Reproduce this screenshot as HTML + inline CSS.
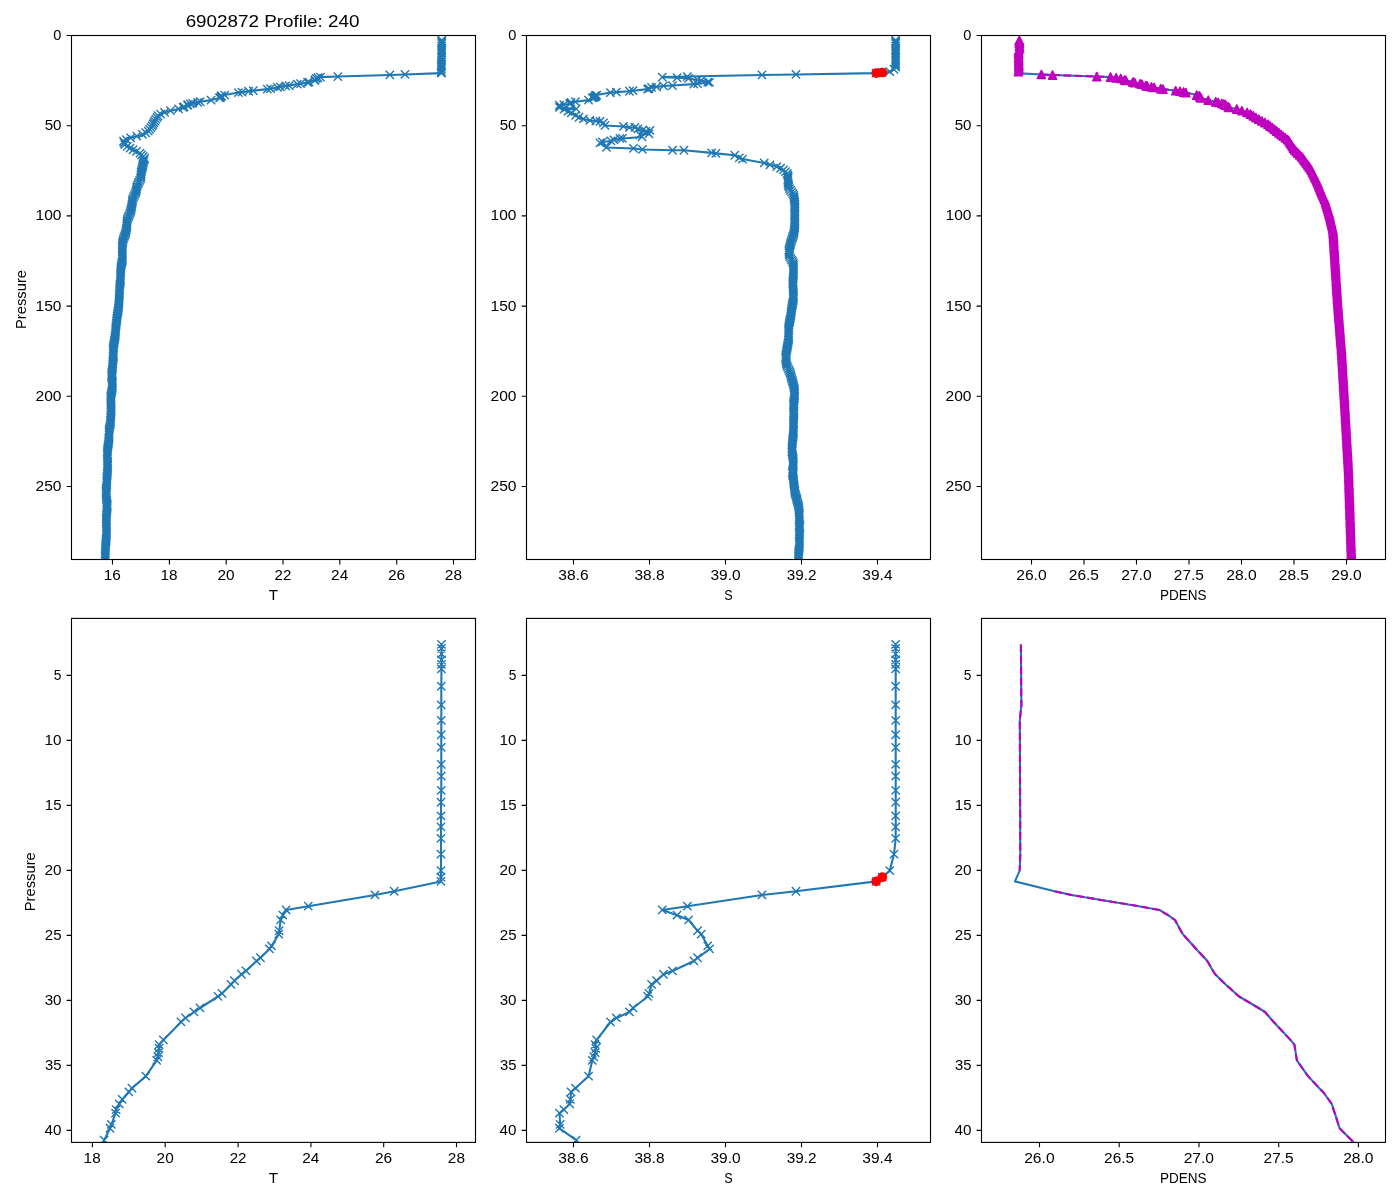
<!DOCTYPE html><html><head><meta charset="utf-8"><style>html,body{margin:0;padding:0;background:#fff;overflow:hidden;width:1400px;height:1200px;}svg{display:block;will-change:transform;}text{font-family:"Liberation Sans",sans-serif;fill:#000;}</style></head><body>
<svg width="1400" height="1200" viewBox="0 0 1400 1200">
<rect x="0" y="0" width="1400" height="1200" fill="#fff"/>
<defs><clipPath id="c0"><rect x="71.5" y="35.5" width="404" height="524"/></clipPath><clipPath id="c1"><rect x="526.5" y="35.5" width="404" height="524"/></clipPath><clipPath id="c2"><rect x="981.5" y="35.5" width="404" height="524"/></clipPath><clipPath id="c3"><rect x="71.5" y="618.4" width="404" height="524"/></clipPath><clipPath id="c4"><rect x="526.5" y="618.4" width="404" height="524"/></clipPath><clipPath id="c5"><rect x="981.5" y="618.4" width="404" height="524"/></clipPath></defs>
<g clip-path="url(#c3)"><path d="M441.5 644.5 L441.5 648.5 L441.5 654 L441.5 660 L441.5 664.5 L441.5 669 L441.3 686.3 L441.3 705 L441.3 720.5 L441.3 734.8 L441.3 747.5 L441.3 764.5 L441.3 776.1 L441.3 790.4 L441 802.3 L441 816 L441 827 L441 838.5 L441 854.1 L441 870.6 L441 877.2 L441 881.4 L394.3 891.3 L375 895 L308.3 906.2 L286.1 910 L282.9 915.2 L280.7 920 L279.2 930.8 L278.8 934.2 L271.5 946 L269.5 949 L260.5 957.8 L256.5 961 L246 971 L241.5 974.3 L234.5 980.8 L231 984.5 L222 993.5 L218 996.5 L200 1008 L194 1012 L185.5 1018 L181 1022 L163.4 1039.9 L159.1 1044.7 L159.1 1048.3 L158.5 1052.6 L157.9 1056.8 L156.7 1060.4 L145.9 1076.1 L132 1088.2 L128.9 1092 L122.3 1099.5 L119.3 1104 L116.2 1109.6 L115.6 1113.2 L111.4 1124.5 L110 1128.3 L104.2 1140.1 L99 1150" stroke="#1f77b4" fill="none" stroke-width="2.08" stroke-linejoin="round" stroke-linecap="butt"/><path d="M437.3 640.3l8.3 8.3m0 -8.3l-8.3 8.3M437.3 644.3l8.3 8.3m0 -8.3l-8.3 8.3M437.3 649.8l8.3 8.3m0 -8.3l-8.3 8.3M437.3 655.8l8.3 8.3m0 -8.3l-8.3 8.3M437.3 660.3l8.3 8.3m0 -8.3l-8.3 8.3M437.3 664.8l8.3 8.3m0 -8.3l-8.3 8.3M437.1 682.1l8.3 8.3m0 -8.3l-8.3 8.3M437.1 700.8l8.3 8.3m0 -8.3l-8.3 8.3M437.1 716.3l8.3 8.3m0 -8.3l-8.3 8.3M437.1 730.6l8.3 8.3m0 -8.3l-8.3 8.3M437.1 743.3l8.3 8.3m0 -8.3l-8.3 8.3M437.1 760.3l8.3 8.3m0 -8.3l-8.3 8.3M437.1 771.9l8.3 8.3m0 -8.3l-8.3 8.3M437.1 786.2l8.3 8.3m0 -8.3l-8.3 8.3M436.8 798.1l8.3 8.3m0 -8.3l-8.3 8.3M436.8 811.8l8.3 8.3m0 -8.3l-8.3 8.3M436.8 822.8l8.3 8.3m0 -8.3l-8.3 8.3M436.8 834.3l8.3 8.3m0 -8.3l-8.3 8.3M436.8 849.9l8.3 8.3m0 -8.3l-8.3 8.3M436.8 866.4l8.3 8.3m0 -8.3l-8.3 8.3M436.8 873l8.3 8.3m0 -8.3l-8.3 8.3M436.8 877.2l8.3 8.3m0 -8.3l-8.3 8.3M390.1 887.1l8.3 8.3m0 -8.3l-8.3 8.3M370.8 890.8l8.3 8.3m0 -8.3l-8.3 8.3M304.1 902l8.3 8.3m0 -8.3l-8.3 8.3M281.9 905.8l8.3 8.3m0 -8.3l-8.3 8.3M278.7 911l8.3 8.3m0 -8.3l-8.3 8.3M276.5 915.8l8.3 8.3m0 -8.3l-8.3 8.3M275 926.6l8.3 8.3m0 -8.3l-8.3 8.3M274.6 930l8.3 8.3m0 -8.3l-8.3 8.3M267.3 941.8l8.3 8.3m0 -8.3l-8.3 8.3M265.3 944.8l8.3 8.3m0 -8.3l-8.3 8.3M256.3 953.6l8.3 8.3m0 -8.3l-8.3 8.3M252.3 956.8l8.3 8.3m0 -8.3l-8.3 8.3M241.8 966.8l8.3 8.3m0 -8.3l-8.3 8.3M237.3 970.1l8.3 8.3m0 -8.3l-8.3 8.3M230.3 976.6l8.3 8.3m0 -8.3l-8.3 8.3M226.8 980.3l8.3 8.3m0 -8.3l-8.3 8.3M217.8 989.3l8.3 8.3m0 -8.3l-8.3 8.3M213.8 992.3l8.3 8.3m0 -8.3l-8.3 8.3M195.8 1003.8l8.3 8.3m0 -8.3l-8.3 8.3M189.8 1007.8l8.3 8.3m0 -8.3l-8.3 8.3M181.3 1013.8l8.3 8.3m0 -8.3l-8.3 8.3M176.8 1017.8l8.3 8.3m0 -8.3l-8.3 8.3M159.2 1035.7l8.3 8.3m0 -8.3l-8.3 8.3M154.9 1040.5l8.3 8.3m0 -8.3l-8.3 8.3M154.9 1044.1l8.3 8.3m0 -8.3l-8.3 8.3M154.3 1048.4l8.3 8.3m0 -8.3l-8.3 8.3M153.7 1052.6l8.3 8.3m0 -8.3l-8.3 8.3M152.5 1056.2l8.3 8.3m0 -8.3l-8.3 8.3M141.7 1071.9l8.3 8.3m0 -8.3l-8.3 8.3M127.8 1084l8.3 8.3m0 -8.3l-8.3 8.3M124.7 1087.8l8.3 8.3m0 -8.3l-8.3 8.3M118.1 1095.3l8.3 8.3m0 -8.3l-8.3 8.3M115.1 1099.8l8.3 8.3m0 -8.3l-8.3 8.3M112 1105.4l8.3 8.3m0 -8.3l-8.3 8.3M111.4 1109l8.3 8.3m0 -8.3l-8.3 8.3M107.2 1120.3l8.3 8.3m0 -8.3l-8.3 8.3M105.8 1124.1l8.3 8.3m0 -8.3l-8.3 8.3M100 1135.9l8.3 8.3m0 -8.3l-8.3 8.3M94.8 1145.8l8.3 8.3m0 -8.3l-8.3 8.3" stroke="#1f77b4" fill="none" stroke-width="1.39" stroke-linecap="butt"/></g>
<g clip-path="url(#c4)"><path d="M895.7 644.5 L895.7 648.5 L895.7 654 L895.7 660 L895.7 664.5 L895.7 669 L895.7 686.3 L895.7 705 L895.7 720.5 L895.7 734.8 L895.7 747.5 L895.7 764.5 L895.7 776.1 L895.7 790.4 L895.7 802.3 L895.7 816 L895.7 827 L895.7 838.5 L894 854.1 L889.8 870.6 L882.3 877.2 L876.2 881.4 L796 891.3 L762 895 L687.4 906.2 L662.3 910 L677.1 915.2 L688.7 920 L697.6 930.8 L701.3 934.2 L707.8 946 L709.6 949 L697.6 957.8 L693.9 961 L672.5 971 L663.5 974.3 L656.6 980.8 L651.6 984.5 L649 993.5 L647.7 996.5 L633.1 1008 L629.5 1012 L616.4 1018 L610.5 1022 L596.7 1039.9 L595.2 1044.7 L595.9 1048.3 L595.2 1052.6 L593.8 1056.8 L592.3 1060.4 L588.6 1076.1 L575.5 1088.2 L571.1 1092 L570.4 1099.5 L569.7 1104 L563.9 1109.6 L559.5 1113.2 L560.2 1124.5 L559.5 1128.3 L576.2 1140.1 L583.5 1150" stroke="#1f77b4" fill="none" stroke-width="2.08" stroke-linejoin="round" stroke-linecap="butt"/><path d="M891.5 640.3l8.3 8.3m0 -8.3l-8.3 8.3M891.5 644.3l8.3 8.3m0 -8.3l-8.3 8.3M891.5 649.8l8.3 8.3m0 -8.3l-8.3 8.3M891.5 655.8l8.3 8.3m0 -8.3l-8.3 8.3M891.5 660.3l8.3 8.3m0 -8.3l-8.3 8.3M891.5 664.8l8.3 8.3m0 -8.3l-8.3 8.3M891.5 682.1l8.3 8.3m0 -8.3l-8.3 8.3M891.5 700.8l8.3 8.3m0 -8.3l-8.3 8.3M891.5 716.3l8.3 8.3m0 -8.3l-8.3 8.3M891.5 730.6l8.3 8.3m0 -8.3l-8.3 8.3M891.5 743.3l8.3 8.3m0 -8.3l-8.3 8.3M891.5 760.3l8.3 8.3m0 -8.3l-8.3 8.3M891.5 771.9l8.3 8.3m0 -8.3l-8.3 8.3M891.5 786.2l8.3 8.3m0 -8.3l-8.3 8.3M891.5 798.1l8.3 8.3m0 -8.3l-8.3 8.3M891.5 811.8l8.3 8.3m0 -8.3l-8.3 8.3M891.5 822.8l8.3 8.3m0 -8.3l-8.3 8.3M891.5 834.3l8.3 8.3m0 -8.3l-8.3 8.3M889.8 849.9l8.3 8.3m0 -8.3l-8.3 8.3M885.6 866.4l8.3 8.3m0 -8.3l-8.3 8.3M878.1 873l8.3 8.3m0 -8.3l-8.3 8.3M872 877.2l8.3 8.3m0 -8.3l-8.3 8.3M791.8 887.1l8.3 8.3m0 -8.3l-8.3 8.3M757.8 890.8l8.3 8.3m0 -8.3l-8.3 8.3M683.2 902l8.3 8.3m0 -8.3l-8.3 8.3M658.1 905.8l8.3 8.3m0 -8.3l-8.3 8.3M672.9 911l8.3 8.3m0 -8.3l-8.3 8.3M684.5 915.8l8.3 8.3m0 -8.3l-8.3 8.3M693.4 926.6l8.3 8.3m0 -8.3l-8.3 8.3M697.1 930l8.3 8.3m0 -8.3l-8.3 8.3M703.6 941.8l8.3 8.3m0 -8.3l-8.3 8.3M705.4 944.8l8.3 8.3m0 -8.3l-8.3 8.3M693.4 953.6l8.3 8.3m0 -8.3l-8.3 8.3M689.7 956.8l8.3 8.3m0 -8.3l-8.3 8.3M668.3 966.8l8.3 8.3m0 -8.3l-8.3 8.3M659.3 970.1l8.3 8.3m0 -8.3l-8.3 8.3M652.4 976.6l8.3 8.3m0 -8.3l-8.3 8.3M647.4 980.3l8.3 8.3m0 -8.3l-8.3 8.3M644.8 989.3l8.3 8.3m0 -8.3l-8.3 8.3M643.5 992.3l8.3 8.3m0 -8.3l-8.3 8.3M628.9 1003.8l8.3 8.3m0 -8.3l-8.3 8.3M625.3 1007.8l8.3 8.3m0 -8.3l-8.3 8.3M612.2 1013.8l8.3 8.3m0 -8.3l-8.3 8.3M606.3 1017.8l8.3 8.3m0 -8.3l-8.3 8.3M592.5 1035.7l8.3 8.3m0 -8.3l-8.3 8.3M591 1040.5l8.3 8.3m0 -8.3l-8.3 8.3M591.7 1044.1l8.3 8.3m0 -8.3l-8.3 8.3M591 1048.4l8.3 8.3m0 -8.3l-8.3 8.3M589.6 1052.6l8.3 8.3m0 -8.3l-8.3 8.3M588.1 1056.2l8.3 8.3m0 -8.3l-8.3 8.3M584.4 1071.9l8.3 8.3m0 -8.3l-8.3 8.3M571.3 1084l8.3 8.3m0 -8.3l-8.3 8.3M566.9 1087.8l8.3 8.3m0 -8.3l-8.3 8.3M566.2 1095.3l8.3 8.3m0 -8.3l-8.3 8.3M565.5 1099.8l8.3 8.3m0 -8.3l-8.3 8.3M559.7 1105.4l8.3 8.3m0 -8.3l-8.3 8.3M555.3 1109l8.3 8.3m0 -8.3l-8.3 8.3M556 1120.3l8.3 8.3m0 -8.3l-8.3 8.3M555.3 1124.1l8.3 8.3m0 -8.3l-8.3 8.3M572 1135.9l8.3 8.3m0 -8.3l-8.3 8.3M579.3 1145.8l8.3 8.3m0 -8.3l-8.3 8.3" stroke="#1f77b4" fill="none" stroke-width="1.39" stroke-linecap="butt"/><circle cx="882.3" cy="877.2" r="4.17" fill="#ff0000" stroke="#ff0000" stroke-width="1.39"/><circle cx="876.2" cy="881.4" r="4.17" fill="#ff0000" stroke="#ff0000" stroke-width="1.39"/></g>
<g clip-path="url(#c5)"><path d="M1020.9 644.5 L1020.9 648.5 L1021 654 L1021 660 L1021.1 664.5 L1021.1 669 L1021.2 686.3 L1021.4 705 L1019.8 720.5 L1019.9 734.8 L1019.9 747.5 L1020 764.5 L1020 776.1 L1020.1 790.4 L1020.1 802.3 L1020.2 816 L1020.2 827 L1020.2 838.5 L1020.3 854.1 L1019.7 870.6 L1016.8 877.2 L1015 881.4 L1054.5 891.3 L1071.4 895 L1138.7 906.2 L1159.5 910 L1168 915.2 L1175 920 L1180.8 930.8 L1182.9 934.2 L1193.5 946 L1196.1 949 L1204.4 957.8 L1207.3 961 L1213.1 971 L1215.2 974.3 L1221.8 980.8 L1225.7 984.5 L1235.7 993.5 L1239.1 996.5 L1258.6 1008 L1265 1012 L1270.2 1018 L1273.7 1022 L1290.4 1039.9 L1294.4 1044.7 L1295 1048.3 L1295.7 1052.6 L1296.3 1056.8 L1296.9 1060.4 L1308 1076.1 L1319.3 1088.2 L1323.1 1092 L1328.6 1099.5 L1331.8 1104 L1333.6 1109.6 L1334.8 1113.2 L1338.4 1124.5 L1339.6 1128.3 L1351.3 1140.1 L1361 1150" stroke="#1f77b4" fill="none" stroke-width="2.08" stroke-linejoin="round" stroke-linecap="butt"/><path d="M1020.9 644.5 L1020.9 648.5 L1021 654 L1021 660 L1021.1 664.5 L1021.1 669 L1021.2 686.3 L1021.4 705 L1019.8 720.5 L1019.9 734.8 L1019.9 747.5 L1020 764.5 L1020 776.1 L1020.1 790.4 L1020.1 802.3 L1020.2 816 L1020.2 827 L1020.2 838.5 L1020.3 854.1 L1019.7 870.6" stroke="#bf00bf" fill="none" stroke-width="2.08" stroke-linejoin="round" stroke-linecap="butt" stroke-dasharray="7.7 3.33"/><path d="M1054.5 891.3 L1071.4 895 L1138.7 906.2 L1159.5 910 L1168 915.2 L1175 920 L1180.8 930.8 L1182.9 934.2 L1193.5 946 L1196.1 949 L1204.4 957.8 L1207.3 961 L1213.1 971 L1215.2 974.3 L1221.8 980.8 L1225.7 984.5 L1235.7 993.5 L1239.1 996.5 L1258.6 1008 L1265 1012 L1270.2 1018 L1273.7 1022 L1290.4 1039.9 L1294.4 1044.7 L1295 1048.3 L1295.7 1052.6 L1296.3 1056.8 L1296.9 1060.4 L1308 1076.1 L1319.3 1088.2 L1323.1 1092 L1328.6 1099.5 L1331.8 1104 L1333.6 1109.6 L1334.8 1113.2 L1338.4 1124.5 L1339.6 1128.3 L1351.3 1140.1 L1361 1150" stroke="#bf00bf" fill="none" stroke-width="2.08" stroke-linejoin="round" stroke-linecap="butt" stroke-dasharray="7.7 3.33"/></g>
<g clip-path="url(#c0)"><path d="M441.8 40.2 L441.8 40.8 L441.8 41.5 L441.8 42.4 L441.8 43 L441.8 43.6 L441.6 46 L441.6 48.6 L441.6 50.8 L441.6 52.8 L441.6 54.5 L441.6 56.9 L441.6 58.5 L441.6 60.5 L441.4 62.1 L441.4 64 L441.4 65.6 L441.4 67.1 L441.4 69.3 L441.4 71.6 L441.4 72.5 L441.4 73.1 L404.9 74.5 L389.9 75 L337.8 76.5 L320.5 77.1 L318 77.8 L316.3 78.5 L315.1 80 L314.8 80.4 L309.1 82.1 L307.5 82.5 L300.5 83.7 L297.4 84.1 L289.2 85.5 L285.7 86 L280.2 86.9 L277.5 87.4 L270.5 88.7 L267.4 89.1 L253.3 90.7 L248.6 91.2 L242 92.1 L238.5 92.6 L224.7 95.1 L221.4 95.8 L221.4 96.3 L220.9 96.9 L220.5 97.4 L219.5 97.9 L211.1 100.1 L200.2 101.8 L197.8 102.3 L192.7 103.4 L190.3 104 L187.9 104.8 L187.4 105.3 L184.2 106.8 L183.1 107.4 L178.5 109 L166.7 111.7 L158.3 115 L154.2 120.8 L151.7 126.7 L148.3 131.7 L141.7 135 L131.7 137.5 L123.3 140.8 L125 145 L131.7 149.2 L140 153.3 L144.2 158.3 L143.3 166.7 L140.8 176.7 L137.5 185 L133.3 200 L131.7 206.7 L126.7 223.3 L123.3 243.3 L121.3 265 L120.3 290 L118.3 310 L115.8 331.7 L113.3 353.3 L112 373.3 L111.9 380 L110.9 410.8 L108.5 438.6 L107.3 457.1 L106.7 487.9 L107 511 L106.2 534.2 L105.2 558.8 L105 575" stroke="#1f77b4" fill="none" stroke-width="2.08" stroke-linejoin="round" stroke-linecap="butt"/><path d="M437.6 36.1l8.3 8.3m0 -8.3l-8.3 8.3M437.6 36.6l8.3 8.3m0 -8.3l-8.3 8.3M437.6 37.4l8.3 8.3m0 -8.3l-8.3 8.3M437.6 38.2l8.3 8.3m0 -8.3l-8.3 8.3M437.6 38.8l8.3 8.3m0 -8.3l-8.3 8.3M437.6 39.5l8.3 8.3m0 -8.3l-8.3 8.3M437.5 41.9l8.3 8.3m0 -8.3l-8.3 8.3M437.5 44.5l8.3 8.3m0 -8.3l-8.3 8.3M437.5 46.6l8.3 8.3m0 -8.3l-8.3 8.3M437.5 48.6l8.3 8.3m0 -8.3l-8.3 8.3M437.5 50.4l8.3 8.3m0 -8.3l-8.3 8.3M437.5 52.7l8.3 8.3m0 -8.3l-8.3 8.3M437.5 54.3l8.3 8.3m0 -8.3l-8.3 8.3M437.5 56.3l8.3 8.3m0 -8.3l-8.3 8.3M437.2 58l8.3 8.3m0 -8.3l-8.3 8.3M437.2 59.9l8.3 8.3m0 -8.3l-8.3 8.3M437.2 61.4l8.3 8.3m0 -8.3l-8.3 8.3M437.2 63l8.3 8.3m0 -8.3l-8.3 8.3M437.2 65.1l8.3 8.3m0 -8.3l-8.3 8.3M437.2 67.4l8.3 8.3m0 -8.3l-8.3 8.3M437.2 68.3l8.3 8.3m0 -8.3l-8.3 8.3M437.2 68.9l8.3 8.3m0 -8.3l-8.3 8.3M400.8 70.3l8.3 8.3m0 -8.3l-8.3 8.3M385.7 70.8l8.3 8.3m0 -8.3l-8.3 8.3M333.7 72.4l8.3 8.3m0 -8.3l-8.3 8.3M316.3 72.9l8.3 8.3m0 -8.3l-8.3 8.3M313.8 73.6l8.3 8.3m0 -8.3l-8.3 8.3M312.1 74.3l8.3 8.3m0 -8.3l-8.3 8.3M310.9 75.8l8.3 8.3m0 -8.3l-8.3 8.3M310.6 76.3l8.3 8.3m0 -8.3l-8.3 8.3M304.9 77.9l8.3 8.3m0 -8.3l-8.3 8.3M303.4 78.3l8.3 8.3m0 -8.3l-8.3 8.3M296.4 79.5l8.3 8.3m0 -8.3l-8.3 8.3M293.2 80l8.3 8.3m0 -8.3l-8.3 8.3M285 81.4l8.3 8.3m0 -8.3l-8.3 8.3M281.5 81.8l8.3 8.3m0 -8.3l-8.3 8.3M276.1 82.7l8.3 8.3m0 -8.3l-8.3 8.3M273.3 83.2l8.3 8.3m0 -8.3l-8.3 8.3M266.3 84.5l8.3 8.3m0 -8.3l-8.3 8.3M263.2 84.9l8.3 8.3m0 -8.3l-8.3 8.3M249.1 86.5l8.3 8.3m0 -8.3l-8.3 8.3M244.5 87.1l8.3 8.3m0 -8.3l-8.3 8.3M237.8 87.9l8.3 8.3m0 -8.3l-8.3 8.3M234.3 88.4l8.3 8.3m0 -8.3l-8.3 8.3M220.6 90.9l8.3 8.3m0 -8.3l-8.3 8.3M217.2 91.6l8.3 8.3m0 -8.3l-8.3 8.3M217.2 92.1l8.3 8.3m0 -8.3l-8.3 8.3M216.7 92.7l8.3 8.3m0 -8.3l-8.3 8.3M216.3 93.3l8.3 8.3m0 -8.3l-8.3 8.3M215.3 93.8l8.3 8.3m0 -8.3l-8.3 8.3M206.9 96l8.3 8.3m0 -8.3l-8.3 8.3M196.1 97.6l8.3 8.3m0 -8.3l-8.3 8.3M193.6 98.2l8.3 8.3m0 -8.3l-8.3 8.3M188.5 99.2l8.3 8.3m0 -8.3l-8.3 8.3M186.2 99.8l8.3 8.3m0 -8.3l-8.3 8.3M183.7 100.6l8.3 8.3m0 -8.3l-8.3 8.3M183.3 101.1l8.3 8.3m0 -8.3l-8.3 8.3M180 102.7l8.3 8.3m0 -8.3l-8.3 8.3M178.9 103.2l8.3 8.3m0 -8.3l-8.3 8.3M174.4 104.8l8.3 8.3m0 -8.3l-8.3 8.3M166.3 106.5l8.3 8.3m0 -8.3l-8.3 8.3M160.4 108.2l8.3 8.3m0 -8.3l-8.3 8.3M156.4 109.9l8.3 8.3m0 -8.3l-8.3 8.3M153.8 111.6l8.3 8.3m0 -8.3l-8.3 8.3M152.9 113.3l8.3 8.3m0 -8.3l-8.3 8.3M151.7 115l8.3 8.3m0 -8.3l-8.3 8.3M150.5 116.7l8.3 8.3m0 -8.3l-8.3 8.3M149.7 118.4l8.3 8.3m0 -8.3l-8.3 8.3M149 120.1l8.3 8.3m0 -8.3l-8.3 8.3M148 121.8l8.3 8.3m0 -8.3l-8.3 8.3M146.9 123.5l8.3 8.3m0 -8.3l-8.3 8.3M145.5 125.2l8.3 8.3m0 -8.3l-8.3 8.3M144.1 126.9l8.3 8.3m0 -8.3l-8.3 8.3M141.6 128.6l8.3 8.3m0 -8.3l-8.3 8.3M138.3 130.3l8.3 8.3m0 -8.3l-8.3 8.3M132.6 132l8.3 8.3m0 -8.3l-8.3 8.3M126.5 133.7l8.3 8.3m0 -8.3l-8.3 8.3M122.2 135.4l8.3 8.3m0 -8.3l-8.3 8.3M119.3 137.1l8.3 8.3m0 -8.3l-8.3 8.3M120 138.8l8.3 8.3m0 -8.3l-8.3 8.3M120.6 140.5l8.3 8.3m0 -8.3l-8.3 8.3M123.1 142.2l8.3 8.3m0 -8.3l-8.3 8.3M125.9 143.9l8.3 8.3m0 -8.3l-8.3 8.3M128.9 145.6l8.3 8.3m0 -8.3l-8.3 8.3M132.4 147.3l8.3 8.3m0 -8.3l-8.3 8.3M135.9 149l8.3 8.3m0 -8.3l-8.3 8.3M137.5 150.7l8.3 8.3m0 -8.3l-8.3 8.3M139 152.4l8.3 8.3m0 -8.3l-8.3 8.3M140.5 154.1l8.3 8.3m0 -8.3l-8.3 8.3M140 155.8l8.3 8.3m0 -8.3l-8.3 8.3M139.6 157.5l8.3 8.3m0 -8.3l-8.3 8.3M139.1 159.2l8.3 8.3m0 -8.3l-8.3 8.3M138.7 160.9l8.3 8.3m0 -8.3l-8.3 8.3M138.4 162.6l8.3 8.3m0 -8.3l-8.3 8.3M138 164.3l8.3 8.3m0 -8.3l-8.3 8.3M137.5 166l8.3 8.3m0 -8.3l-8.3 8.3M137.1 167.7l8.3 8.3m0 -8.3l-8.3 8.3M137 169.4l8.3 8.3m0 -8.3l-8.3 8.3M136.9 171.1l8.3 8.3m0 -8.3l-8.3 8.3M136.7 172.8l8.3 8.3m0 -8.3l-8.3 8.3M136.4 174.5l8.3 8.3m0 -8.3l-8.3 8.3M135.5 176.2l8.3 8.3m0 -8.3l-8.3 8.3M134.7 177.9l8.3 8.3m0 -8.3l-8.3 8.3M133.9 179.6l8.3 8.3m0 -8.3l-8.3 8.3M133.1 181.3l8.3 8.3m0 -8.3l-8.3 8.3M132.7 183l8.3 8.3m0 -8.3l-8.3 8.3M132.4 184.7l8.3 8.3m0 -8.3l-8.3 8.3M132 186.4l8.3 8.3m0 -8.3l-8.3 8.3M131.7 188.1l8.3 8.3m0 -8.3l-8.3 8.3M130.9 189.8l8.3 8.3m0 -8.3l-8.3 8.3M130.1 191.5l8.3 8.3m0 -8.3l-8.3 8.3M129.4 193.2l8.3 8.3m0 -8.3l-8.3 8.3M128.6 194.9l8.3 8.3m0 -8.3l-8.3 8.3M128.3 196.6l8.3 8.3m0 -8.3l-8.3 8.3M128.1 198.3l8.3 8.3m0 -8.3l-8.3 8.3M127.9 200l8.3 8.3m0 -8.3l-8.3 8.3M127.6 201.7l8.3 8.3m0 -8.3l-8.3 8.3M127.3 203.4l8.3 8.3m0 -8.3l-8.3 8.3M126.9 205.1l8.3 8.3m0 -8.3l-8.3 8.3M126.5 206.8l8.3 8.3m0 -8.3l-8.3 8.3M126.1 208.5l8.3 8.3m0 -8.3l-8.3 8.3M125.4 210.2l8.3 8.3m0 -8.3l-8.3 8.3M124.7 211.9l8.3 8.3m0 -8.3l-8.3 8.3M123.9 213.6l8.3 8.3m0 -8.3l-8.3 8.3M123.2 215.3l8.3 8.3m0 -8.3l-8.3 8.3M123 217l8.3 8.3m0 -8.3l-8.3 8.3M122.8 218.7l8.3 8.3m0 -8.3l-8.3 8.3M122.7 220.4l8.3 8.3m0 -8.3l-8.3 8.3M122.7 222.1l8.3 8.3m0 -8.3l-8.3 8.3M122.4 223.8l8.3 8.3m0 -8.3l-8.3 8.3M122.1 225.5l8.3 8.3m0 -8.3l-8.3 8.3M121.8 227.2l8.3 8.3m0 -8.3l-8.3 8.3M121.5 228.9l8.3 8.3m0 -8.3l-8.3 8.3M120.9 230.6l8.3 8.3m0 -8.3l-8.3 8.3M120.2 232.3l8.3 8.3m0 -8.3l-8.3 8.3M119.6 234l8.3 8.3m0 -8.3l-8.3 8.3M119 235.7l8.3 8.3m0 -8.3l-8.3 8.3M118.7 237.4l8.3 8.3m0 -8.3l-8.3 8.3M118.4 239.1l8.3 8.3m0 -8.3l-8.3 8.3M118.2 240.8l8.3 8.3m0 -8.3l-8.3 8.3M118.1 242.5l8.3 8.3m0 -8.3l-8.3 8.3M118.1 244.2l8.3 8.3m0 -8.3l-8.3 8.3M118.2 245.9l8.3 8.3m0 -8.3l-8.3 8.3M118.2 247.6l8.3 8.3m0 -8.3l-8.3 8.3M118.3 249.3l8.3 8.3m0 -8.3l-8.3 8.3M118.3 251l8.3 8.3m0 -8.3l-8.3 8.3M118.3 252.7l8.3 8.3m0 -8.3l-8.3 8.3M118.3 254.4l8.3 8.3m0 -8.3l-8.3 8.3M118.3 256.1l8.3 8.3m0 -8.3l-8.3 8.3M117.9 257.8l8.3 8.3m0 -8.3l-8.3 8.3M117.5 259.5l8.3 8.3m0 -8.3l-8.3 8.3M117.1 261.2l8.3 8.3m0 -8.3l-8.3 8.3M116.9 262.9l8.3 8.3m0 -8.3l-8.3 8.3M116.7 264.6l8.3 8.3m0 -8.3l-8.3 8.3M116.6 266.3l8.3 8.3m0 -8.3l-8.3 8.3M116.5 268l8.3 8.3m0 -8.3l-8.3 8.3M116.3 269.7l8.3 8.3m0 -8.3l-8.3 8.3M116.3 271.4l8.3 8.3m0 -8.3l-8.3 8.3M116.3 273.1l8.3 8.3m0 -8.3l-8.3 8.3M116.4 274.8l8.3 8.3m0 -8.3l-8.3 8.3M116.4 276.5l8.3 8.3m0 -8.3l-8.3 8.3M116.2 278.2l8.3 8.3m0 -8.3l-8.3 8.3M115.9 279.9l8.3 8.3m0 -8.3l-8.3 8.3M115.7 281.6l8.3 8.3m0 -8.3l-8.3 8.3M115.5 283.3l8.3 8.3m0 -8.3l-8.3 8.3M115.5 285l8.3 8.3m0 -8.3l-8.3 8.3M115.4 286.7l8.3 8.3m0 -8.3l-8.3 8.3M115.3 288.4l8.3 8.3m0 -8.3l-8.3 8.3M115.3 290.1l8.3 8.3m0 -8.3l-8.3 8.3M115.2 291.8l8.3 8.3m0 -8.3l-8.3 8.3M115.1 293.5l8.3 8.3m0 -8.3l-8.3 8.3M115 295.2l8.3 8.3m0 -8.3l-8.3 8.3M114.9 296.9l8.3 8.3m0 -8.3l-8.3 8.3M114.8 298.6l8.3 8.3m0 -8.3l-8.3 8.3M114.6 300.3l8.3 8.3m0 -8.3l-8.3 8.3M114.5 302l8.3 8.3m0 -8.3l-8.3 8.3M114.3 303.7l8.3 8.3m0 -8.3l-8.3 8.3M114.1 305.4l8.3 8.3m0 -8.3l-8.3 8.3M113.8 307.1l8.3 8.3m0 -8.3l-8.3 8.3M113.5 308.8l8.3 8.3m0 -8.3l-8.3 8.3M113.2 310.5l8.3 8.3m0 -8.3l-8.3 8.3M113 312.2l8.3 8.3m0 -8.3l-8.3 8.3M112.8 313.9l8.3 8.3m0 -8.3l-8.3 8.3M112.6 315.6l8.3 8.3m0 -8.3l-8.3 8.3M112.4 317.3l8.3 8.3m0 -8.3l-8.3 8.3M112.2 319l8.3 8.3m0 -8.3l-8.3 8.3M112 320.7l8.3 8.3m0 -8.3l-8.3 8.3M111.8 322.4l8.3 8.3m0 -8.3l-8.3 8.3M111.6 324.1l8.3 8.3m0 -8.3l-8.3 8.3M111.5 325.8l8.3 8.3m0 -8.3l-8.3 8.3M111.4 327.5l8.3 8.3m0 -8.3l-8.3 8.3M111.3 329.2l8.3 8.3m0 -8.3l-8.3 8.3M111.2 330.9l8.3 8.3m0 -8.3l-8.3 8.3M110.9 332.6l8.3 8.3m0 -8.3l-8.3 8.3M110.6 334.3l8.3 8.3m0 -8.3l-8.3 8.3M110.4 336l8.3 8.3m0 -8.3l-8.3 8.3M110.1 337.7l8.3 8.3m0 -8.3l-8.3 8.3M109.8 339.4l8.3 8.3m0 -8.3l-8.3 8.3M109.5 341.1l8.3 8.3m0 -8.3l-8.3 8.3M109.2 342.8l8.3 8.3m0 -8.3l-8.3 8.3M108.9 344.5l8.3 8.3m0 -8.3l-8.3 8.3M109 346.2l8.3 8.3m0 -8.3l-8.3 8.3M109.2 347.9l8.3 8.3m0 -8.3l-8.3 8.3M109.3 349.6l8.3 8.3m0 -8.3l-8.3 8.3M109.5 351.3l8.3 8.3m0 -8.3l-8.3 8.3M109.3 353l8.3 8.3m0 -8.3l-8.3 8.3M109.1 354.7l8.3 8.3m0 -8.3l-8.3 8.3M108.9 356.4l8.3 8.3m0 -8.3l-8.3 8.3M108.6 358.1l8.3 8.3m0 -8.3l-8.3 8.3M108.6 359.8l8.3 8.3m0 -8.3l-8.3 8.3M108.5 361.5l8.3 8.3m0 -8.3l-8.3 8.3M108.4 363.2l8.3 8.3m0 -8.3l-8.3 8.3M108.3 364.9l8.3 8.3m0 -8.3l-8.3 8.3M108 366.6l8.3 8.3m0 -8.3l-8.3 8.3M107.7 368.3l8.3 8.3m0 -8.3l-8.3 8.3M107.5 370l8.3 8.3m0 -8.3l-8.3 8.3M107.3 371.7l8.3 8.3m0 -8.3l-8.3 8.3M107.6 373.4l8.3 8.3m0 -8.3l-8.3 8.3M107.9 375.1l8.3 8.3m0 -8.3l-8.3 8.3M108.2 376.8l8.3 8.3m0 -8.3l-8.3 8.3M108.4 378.5l8.3 8.3m0 -8.3l-8.3 8.3M108.3 380.2l8.3 8.3m0 -8.3l-8.3 8.3M108.2 381.9l8.3 8.3m0 -8.3l-8.3 8.3M108.1 383.6l8.3 8.3m0 -8.3l-8.3 8.3M108 385.3l8.3 8.3m0 -8.3l-8.3 8.3M107.6 387l8.3 8.3m0 -8.3l-8.3 8.3M107.3 388.7l8.3 8.3m0 -8.3l-8.3 8.3M106.9 390.4l8.3 8.3m0 -8.3l-8.3 8.3M106.6 392.1l8.3 8.3m0 -8.3l-8.3 8.3M106.6 393.8l8.3 8.3m0 -8.3l-8.3 8.3M106.7 395.5l8.3 8.3m0 -8.3l-8.3 8.3M106.7 397.2l8.3 8.3m0 -8.3l-8.3 8.3M106.7 398.9l8.3 8.3m0 -8.3l-8.3 8.3M106.8 400.6l8.3 8.3m0 -8.3l-8.3 8.3M106.9 402.3l8.3 8.3m0 -8.3l-8.3 8.3M107 404l8.3 8.3m0 -8.3l-8.3 8.3M107.1 405.7l8.3 8.3m0 -8.3l-8.3 8.3M107 407.4l8.3 8.3m0 -8.3l-8.3 8.3M106.9 409.1l8.3 8.3m0 -8.3l-8.3 8.3M106.7 410.8l8.3 8.3m0 -8.3l-8.3 8.3M106.6 412.5l8.3 8.3m0 -8.3l-8.3 8.3M106.5 414.2l8.3 8.3m0 -8.3l-8.3 8.3M106.4 415.9l8.3 8.3m0 -8.3l-8.3 8.3M106.4 417.6l8.3 8.3m0 -8.3l-8.3 8.3M106.3 419.3l8.3 8.3m0 -8.3l-8.3 8.3M106 421l8.3 8.3m0 -8.3l-8.3 8.3M105.6 422.7l8.3 8.3m0 -8.3l-8.3 8.3M105.3 424.4l8.3 8.3m0 -8.3l-8.3 8.3M104.9 426.1l8.3 8.3m0 -8.3l-8.3 8.3M104.9 427.8l8.3 8.3m0 -8.3l-8.3 8.3M105 429.5l8.3 8.3m0 -8.3l-8.3 8.3M105 431.2l8.3 8.3m0 -8.3l-8.3 8.3M105 432.9l8.3 8.3m0 -8.3l-8.3 8.3M104.8 434.6l8.3 8.3m0 -8.3l-8.3 8.3M104.6 436.3l8.3 8.3m0 -8.3l-8.3 8.3M104.4 438l8.3 8.3m0 -8.3l-8.3 8.3M104.3 439.7l8.3 8.3m0 -8.3l-8.3 8.3M104 441.4l8.3 8.3m0 -8.3l-8.3 8.3M103.7 443.1l8.3 8.3m0 -8.3l-8.3 8.3M103.5 444.8l8.3 8.3m0 -8.3l-8.3 8.3M103.2 446.5l8.3 8.3m0 -8.3l-8.3 8.3M103.2 448.2l8.3 8.3m0 -8.3l-8.3 8.3M103.2 449.9l8.3 8.3m0 -8.3l-8.3 8.3M103.2 451.6l8.3 8.3m0 -8.3l-8.3 8.3M103.3 453.3l8.3 8.3m0 -8.3l-8.3 8.3M103.3 455l8.3 8.3m0 -8.3l-8.3 8.3M103.4 456.7l8.3 8.3m0 -8.3l-8.3 8.3M103.5 458.4l8.3 8.3m0 -8.3l-8.3 8.3M103.6 460.1l8.3 8.3m0 -8.3l-8.3 8.3M103.6 461.8l8.3 8.3m0 -8.3l-8.3 8.3M103.5 463.5l8.3 8.3m0 -8.3l-8.3 8.3M103.5 465.2l8.3 8.3m0 -8.3l-8.3 8.3M103.4 466.9l8.3 8.3m0 -8.3l-8.3 8.3M103.2 468.6l8.3 8.3m0 -8.3l-8.3 8.3M103.1 470.3l8.3 8.3m0 -8.3l-8.3 8.3M102.9 472l8.3 8.3m0 -8.3l-8.3 8.3M102.7 473.7l8.3 8.3m0 -8.3l-8.3 8.3M102.7 475.4l8.3 8.3m0 -8.3l-8.3 8.3M102.7 477.1l8.3 8.3m0 -8.3l-8.3 8.3M102.7 478.8l8.3 8.3m0 -8.3l-8.3 8.3M102.7 480.5l8.3 8.3m0 -8.3l-8.3 8.3M102.5 482.2l8.3 8.3m0 -8.3l-8.3 8.3M102.2 483.9l8.3 8.3m0 -8.3l-8.3 8.3M102 485.6l8.3 8.3m0 -8.3l-8.3 8.3M101.8 487.3l8.3 8.3m0 -8.3l-8.3 8.3M101.9 489l8.3 8.3m0 -8.3l-8.3 8.3M102 490.7l8.3 8.3m0 -8.3l-8.3 8.3M102.1 492.4l8.3 8.3m0 -8.3l-8.3 8.3M102.3 494.1l8.3 8.3m0 -8.3l-8.3 8.3M102.5 495.8l8.3 8.3m0 -8.3l-8.3 8.3M102.7 497.5l8.3 8.3m0 -8.3l-8.3 8.3M103 499.2l8.3 8.3m0 -8.3l-8.3 8.3M103.2 500.9l8.3 8.3m0 -8.3l-8.3 8.3M103.1 502.6l8.3 8.3m0 -8.3l-8.3 8.3M103 504.3l8.3 8.3m0 -8.3l-8.3 8.3M102.8 506l8.3 8.3m0 -8.3l-8.3 8.3M102.7 507.7l8.3 8.3m0 -8.3l-8.3 8.3M102.5 509.4l8.3 8.3m0 -8.3l-8.3 8.3M102.4 511.1l8.3 8.3m0 -8.3l-8.3 8.3M102.2 512.8l8.3 8.3m0 -8.3l-8.3 8.3M102 514.5l8.3 8.3m0 -8.3l-8.3 8.3M102.1 516.2l8.3 8.3m0 -8.3l-8.3 8.3M102.2 517.9l8.3 8.3m0 -8.3l-8.3 8.3M102.3 519.6l8.3 8.3m0 -8.3l-8.3 8.3M102.4 521.3l8.3 8.3m0 -8.3l-8.3 8.3M102.4 523l8.3 8.3m0 -8.3l-8.3 8.3M102.4 524.7l8.3 8.3m0 -8.3l-8.3 8.3M102.4 526.4l8.3 8.3m0 -8.3l-8.3 8.3M102.4 528.1l8.3 8.3m0 -8.3l-8.3 8.3M102.4 529.8l8.3 8.3m0 -8.3l-8.3 8.3M102.3 531.5l8.3 8.3m0 -8.3l-8.3 8.3M102.2 533.2l8.3 8.3m0 -8.3l-8.3 8.3M102.1 534.9l8.3 8.3m0 -8.3l-8.3 8.3M101.9 536.6l8.3 8.3m0 -8.3l-8.3 8.3M101.7 538.3l8.3 8.3m0 -8.3l-8.3 8.3M101.5 540l8.3 8.3m0 -8.3l-8.3 8.3M101.4 541.7l8.3 8.3m0 -8.3l-8.3 8.3M101.3 543.4l8.3 8.3m0 -8.3l-8.3 8.3M101.3 545.1l8.3 8.3m0 -8.3l-8.3 8.3M101.2 546.8l8.3 8.3m0 -8.3l-8.3 8.3M101.2 548.5l8.3 8.3m0 -8.3l-8.3 8.3M101.1 550.2l8.3 8.3m0 -8.3l-8.3 8.3M101.1 551.9l8.3 8.3m0 -8.3l-8.3 8.3M101.1 553.6l8.3 8.3m0 -8.3l-8.3 8.3M101 555.3l8.3 8.3m0 -8.3l-8.3 8.3M101.1 557l8.3 8.3m0 -8.3l-8.3 8.3M101.2 558.7l8.3 8.3m0 -8.3l-8.3 8.3M101.3 560.4l8.3 8.3m0 -8.3l-8.3 8.3M101.4 562.1l8.3 8.3m0 -8.3l-8.3 8.3M101.3 563.8l8.3 8.3m0 -8.3l-8.3 8.3M101.1 565.5l8.3 8.3m0 -8.3l-8.3 8.3M101 567.2l8.3 8.3m0 -8.3l-8.3 8.3M100.9 568.9l8.3 8.3m0 -8.3l-8.3 8.3M100.8 570.6l8.3 8.3m0 -8.3l-8.3 8.3" stroke="#1f77b4" fill="none" stroke-width="1.39" stroke-linecap="butt"/></g>
<g clip-path="url(#c1)"><path d="M895.7 40.2 L895.7 40.8 L895.7 41.5 L895.7 42.4 L895.7 43 L895.7 43.6 L895.7 46 L895.7 48.6 L895.7 50.8 L895.7 52.8 L895.7 54.5 L895.7 56.9 L895.7 58.5 L895.7 60.5 L895.7 62.1 L895.7 64 L895.7 65.6 L895.7 67.1 L894 69.3 L889.8 71.6 L882.3 72.5 L876.2 73.1 L796 74.5 L762 75 L687.4 76.5 L662.3 77.1 L677.1 77.8 L688.7 78.5 L697.6 80 L701.3 80.4 L707.8 82.1 L709.6 82.5 L697.6 83.7 L693.9 84.1 L672.5 85.5 L663.5 86 L656.6 86.9 L651.6 87.4 L649 88.7 L647.7 89.1 L633.1 90.7 L629.5 91.2 L616.4 92.1 L610.5 92.6 L596.7 95.1 L595.2 95.8 L595.9 96.3 L595.2 96.9 L593.8 97.4 L592.3 97.9 L588.6 100.1 L575.5 101.8 L571.1 102.3 L570.4 103.4 L569.7 104 L563.9 104.8 L559.5 105.3 L560.2 106.8 L559.5 107.4 L576.2 109 L564.1 109.1 L568 111.5 L571.4 113 L575.7 115.5 L579.1 117.3 L583.4 119 L590 120.5 L596 121 L600 121.5 L603.5 123 L605 125.5 L623.5 126.5 L629.5 127.5 L635 127.5 L638 129 L643 130 L646 131.5 L650 130.5 L649 134 L640 135 L642 137 L622.5 138.5 L620 138.5 L614 140 L611 141 L602.5 142 L600 143 L606.5 147.5 L633.5 148.5 L642.5 149.5 L672.6 150.3 L684 150.3 L711.7 152.9 L716 153.4 L734.8 155.3 L739.3 157.9 L742.5 159.1 L764.3 163 L770.1 164.9 L773.3 165.5 L779 167.8 L783.8 170.5 L786.5 173.5 L788.3 176.8 L788.8 183 L790 189.2 L793.3 195.5 L794.6 203.8 L794.8 208.3 L794.8 225 L793.8 233.3 L791.7 241.7 L789 250 L789.5 256 L792.9 263 L792.7 283.3 L794 296 L794 300 L792.5 308.3 L790.8 316.7 L789.3 325 L788.3 333.3 L788.2 341.7 L786.7 350 L786 358.3 L787.9 366.7 L791.3 375 L793.2 383.3 L794.3 395.8 L793.2 416.7 L792.9 433.3 L791.7 445.8 L792.5 458.3 L792.9 475 L793.5 484 L795.2 493.3 L797 500 L798.7 506.7 L798.9 516.7 L799.5 526.7 L799.3 536.7 L798.7 546.7 L798.5 558 L798.5 575" stroke="#1f77b4" fill="none" stroke-width="2.08" stroke-linejoin="round" stroke-linecap="butt"/><path d="M891.5 36.1l8.3 8.3m0 -8.3l-8.3 8.3M891.5 36.6l8.3 8.3m0 -8.3l-8.3 8.3M891.5 37.4l8.3 8.3m0 -8.3l-8.3 8.3M891.5 38.2l8.3 8.3m0 -8.3l-8.3 8.3M891.5 38.8l8.3 8.3m0 -8.3l-8.3 8.3M891.5 39.5l8.3 8.3m0 -8.3l-8.3 8.3M891.5 41.9l8.3 8.3m0 -8.3l-8.3 8.3M891.5 44.5l8.3 8.3m0 -8.3l-8.3 8.3M891.5 46.6l8.3 8.3m0 -8.3l-8.3 8.3M891.5 48.6l8.3 8.3m0 -8.3l-8.3 8.3M891.5 50.4l8.3 8.3m0 -8.3l-8.3 8.3M891.5 52.7l8.3 8.3m0 -8.3l-8.3 8.3M891.5 54.3l8.3 8.3m0 -8.3l-8.3 8.3M891.5 56.3l8.3 8.3m0 -8.3l-8.3 8.3M891.5 58l8.3 8.3m0 -8.3l-8.3 8.3M891.5 59.9l8.3 8.3m0 -8.3l-8.3 8.3M891.5 61.4l8.3 8.3m0 -8.3l-8.3 8.3M891.5 63l8.3 8.3m0 -8.3l-8.3 8.3M889.8 65.1l8.3 8.3m0 -8.3l-8.3 8.3M885.6 67.4l8.3 8.3m0 -8.3l-8.3 8.3M878.1 68.3l8.3 8.3m0 -8.3l-8.3 8.3M872 68.9l8.3 8.3m0 -8.3l-8.3 8.3M791.8 70.3l8.3 8.3m0 -8.3l-8.3 8.3M757.8 70.8l8.3 8.3m0 -8.3l-8.3 8.3M683.2 72.4l8.3 8.3m0 -8.3l-8.3 8.3M658.1 72.9l8.3 8.3m0 -8.3l-8.3 8.3M672.9 73.6l8.3 8.3m0 -8.3l-8.3 8.3M684.5 74.3l8.3 8.3m0 -8.3l-8.3 8.3M693.4 75.8l8.3 8.3m0 -8.3l-8.3 8.3M697.1 76.3l8.3 8.3m0 -8.3l-8.3 8.3M703.6 77.9l8.3 8.3m0 -8.3l-8.3 8.3M705.4 78.3l8.3 8.3m0 -8.3l-8.3 8.3M693.4 79.5l8.3 8.3m0 -8.3l-8.3 8.3M689.7 80l8.3 8.3m0 -8.3l-8.3 8.3M668.3 81.4l8.3 8.3m0 -8.3l-8.3 8.3M659.3 81.8l8.3 8.3m0 -8.3l-8.3 8.3M652.4 82.7l8.3 8.3m0 -8.3l-8.3 8.3M647.4 83.2l8.3 8.3m0 -8.3l-8.3 8.3M644.8 84.5l8.3 8.3m0 -8.3l-8.3 8.3M643.5 84.9l8.3 8.3m0 -8.3l-8.3 8.3M628.9 86.5l8.3 8.3m0 -8.3l-8.3 8.3M625.3 87.1l8.3 8.3m0 -8.3l-8.3 8.3M612.2 87.9l8.3 8.3m0 -8.3l-8.3 8.3M606.3 88.4l8.3 8.3m0 -8.3l-8.3 8.3M592.5 90.9l8.3 8.3m0 -8.3l-8.3 8.3M591 91.6l8.3 8.3m0 -8.3l-8.3 8.3M591.7 92.1l8.3 8.3m0 -8.3l-8.3 8.3M591 92.7l8.3 8.3m0 -8.3l-8.3 8.3M589.6 93.3l8.3 8.3m0 -8.3l-8.3 8.3M588.1 93.8l8.3 8.3m0 -8.3l-8.3 8.3M584.4 96l8.3 8.3m0 -8.3l-8.3 8.3M571.3 97.6l8.3 8.3m0 -8.3l-8.3 8.3M566.9 98.2l8.3 8.3m0 -8.3l-8.3 8.3M566.2 99.2l8.3 8.3m0 -8.3l-8.3 8.3M565.5 99.8l8.3 8.3m0 -8.3l-8.3 8.3M559.7 100.6l8.3 8.3m0 -8.3l-8.3 8.3M555.3 101.1l8.3 8.3m0 -8.3l-8.3 8.3M556 102.7l8.3 8.3m0 -8.3l-8.3 8.3M555.3 103.2l8.3 8.3m0 -8.3l-8.3 8.3M572 104.8l8.3 8.3m0 -8.3l-8.3 8.3M559.9 104.9l8.3 8.3m0 -8.3l-8.3 8.3M563.8 107.3l8.3 8.3m0 -8.3l-8.3 8.3M567.2 108.8l8.3 8.3m0 -8.3l-8.3 8.3M571.5 111.3l8.3 8.3m0 -8.3l-8.3 8.3M574.9 113.1l8.3 8.3m0 -8.3l-8.3 8.3M579.2 114.8l8.3 8.3m0 -8.3l-8.3 8.3M585.8 116.3l8.3 8.3m0 -8.3l-8.3 8.3M591.8 116.8l8.3 8.3m0 -8.3l-8.3 8.3M595.8 117.3l8.3 8.3m0 -8.3l-8.3 8.3M599.3 118.8l8.3 8.3m0 -8.3l-8.3 8.3M600.8 121.3l8.3 8.3m0 -8.3l-8.3 8.3M619.3 122.3l8.3 8.3m0 -8.3l-8.3 8.3M625.3 123.3l8.3 8.3m0 -8.3l-8.3 8.3M630.8 123.3l8.3 8.3m0 -8.3l-8.3 8.3M633.8 124.8l8.3 8.3m0 -8.3l-8.3 8.3M638.8 125.8l8.3 8.3m0 -8.3l-8.3 8.3M641.8 127.3l8.3 8.3m0 -8.3l-8.3 8.3M645.8 126.3l8.3 8.3m0 -8.3l-8.3 8.3M644.8 129.8l8.3 8.3m0 -8.3l-8.3 8.3M635.8 130.8l8.3 8.3m0 -8.3l-8.3 8.3M637.8 132.8l8.3 8.3m0 -8.3l-8.3 8.3M618.3 134.3l8.3 8.3m0 -8.3l-8.3 8.3M615.8 134.3l8.3 8.3m0 -8.3l-8.3 8.3M609.8 135.8l8.3 8.3m0 -8.3l-8.3 8.3M606.8 136.8l8.3 8.3m0 -8.3l-8.3 8.3M598.3 137.8l8.3 8.3m0 -8.3l-8.3 8.3M595.8 138.8l8.3 8.3m0 -8.3l-8.3 8.3M602.3 143.3l8.3 8.3m0 -8.3l-8.3 8.3M629.3 144.3l8.3 8.3m0 -8.3l-8.3 8.3M638.3 145.3l8.3 8.3m0 -8.3l-8.3 8.3M668.4 146.1l8.3 8.3m0 -8.3l-8.3 8.3M679.8 146.1l8.3 8.3m0 -8.3l-8.3 8.3M707.5 148.7l8.3 8.3m0 -8.3l-8.3 8.3M711.8 149.2l8.3 8.3m0 -8.3l-8.3 8.3M730.6 151.1l8.3 8.3m0 -8.3l-8.3 8.3M735.1 153.7l8.3 8.3m0 -8.3l-8.3 8.3M738.3 154.9l8.3 8.3m0 -8.3l-8.3 8.3M760.1 158.8l8.3 8.3m0 -8.3l-8.3 8.3M765.9 160.7l8.3 8.3m0 -8.3l-8.3 8.3M772.6 162.4l8.3 8.3m0 -8.3l-8.3 8.3M776.4 164.1l8.3 8.3m0 -8.3l-8.3 8.3M779.4 165.8l8.3 8.3m0 -8.3l-8.3 8.3M781.4 167.5l8.3 8.3m0 -8.3l-8.3 8.3M783 169.2l8.3 8.3m0 -8.3l-8.3 8.3M783.6 170.9l8.3 8.3m0 -8.3l-8.3 8.3M784.1 172.6l8.3 8.3m0 -8.3l-8.3 8.3M783.9 174.3l8.3 8.3m0 -8.3l-8.3 8.3M783.7 176l8.3 8.3m0 -8.3l-8.3 8.3M783.8 177.7l8.3 8.3m0 -8.3l-8.3 8.3M784 179.4l8.3 8.3m0 -8.3l-8.3 8.3M784.4 181.1l8.3 8.3m0 -8.3l-8.3 8.3M784.7 182.8l8.3 8.3m0 -8.3l-8.3 8.3M785.4 184.5l8.3 8.3m0 -8.3l-8.3 8.3M786.4 186.2l8.3 8.3m0 -8.3l-8.3 8.3M787.6 187.9l8.3 8.3m0 -8.3l-8.3 8.3M788.8 189.6l8.3 8.3m0 -8.3l-8.3 8.3M789.6 191.3l8.3 8.3m0 -8.3l-8.3 8.3M789.9 193l8.3 8.3m0 -8.3l-8.3 8.3M790.1 194.7l8.3 8.3m0 -8.3l-8.3 8.3M790.3 196.4l8.3 8.3m0 -8.3l-8.3 8.3M790.5 198.1l8.3 8.3m0 -8.3l-8.3 8.3M790.8 199.8l8.3 8.3m0 -8.3l-8.3 8.3M790.8 201.5l8.3 8.3m0 -8.3l-8.3 8.3M790.9 203.2l8.3 8.3m0 -8.3l-8.3 8.3M790.8 204.9l8.3 8.3m0 -8.3l-8.3 8.3M790.6 206.6l8.3 8.3m0 -8.3l-8.3 8.3M790.5 208.3l8.3 8.3m0 -8.3l-8.3 8.3M790.3 210l8.3 8.3m0 -8.3l-8.3 8.3M790.4 211.7l8.3 8.3m0 -8.3l-8.3 8.3M790.6 213.4l8.3 8.3m0 -8.3l-8.3 8.3M790.7 215.1l8.3 8.3m0 -8.3l-8.3 8.3M790.8 216.8l8.3 8.3m0 -8.3l-8.3 8.3M790.8 218.5l8.3 8.3m0 -8.3l-8.3 8.3M790.8 220.2l8.3 8.3m0 -8.3l-8.3 8.3M790.7 221.9l8.3 8.3m0 -8.3l-8.3 8.3M790.5 223.6l8.3 8.3m0 -8.3l-8.3 8.3M790.2 225.3l8.3 8.3m0 -8.3l-8.3 8.3M790 227l8.3 8.3m0 -8.3l-8.3 8.3M789.8 228.7l8.3 8.3m0 -8.3l-8.3 8.3M789.4 230.4l8.3 8.3m0 -8.3l-8.3 8.3M788.8 232.1l8.3 8.3m0 -8.3l-8.3 8.3M788.2 233.8l8.3 8.3m0 -8.3l-8.3 8.3M787.7 235.5l8.3 8.3m0 -8.3l-8.3 8.3M787.1 237.2l8.3 8.3m0 -8.3l-8.3 8.3M786.6 238.9l8.3 8.3m0 -8.3l-8.3 8.3M786.2 240.6l8.3 8.3m0 -8.3l-8.3 8.3M785.7 242.3l8.3 8.3m0 -8.3l-8.3 8.3M785.3 244l8.3 8.3m0 -8.3l-8.3 8.3M784.7 245.7l8.3 8.3m0 -8.3l-8.3 8.3M784.8 247.4l8.3 8.3m0 -8.3l-8.3 8.3M784.9 249.1l8.3 8.3m0 -8.3l-8.3 8.3M785.1 250.8l8.3 8.3m0 -8.3l-8.3 8.3M785.6 252.5l8.3 8.3m0 -8.3l-8.3 8.3M786.6 254.2l8.3 8.3m0 -8.3l-8.3 8.3M787.5 255.9l8.3 8.3m0 -8.3l-8.3 8.3M788.5 257.6l8.3 8.3m0 -8.3l-8.3 8.3M789.2 259.3l8.3 8.3m0 -8.3l-8.3 8.3M789.3 261l8.3 8.3m0 -8.3l-8.3 8.3M789.4 262.7l8.3 8.3m0 -8.3l-8.3 8.3M789.5 264.4l8.3 8.3m0 -8.3l-8.3 8.3M789.4 266.1l8.3 8.3m0 -8.3l-8.3 8.3M789.4 267.8l8.3 8.3m0 -8.3l-8.3 8.3M789.4 269.5l8.3 8.3m0 -8.3l-8.3 8.3M789.3 271.2l8.3 8.3m0 -8.3l-8.3 8.3M789.1 272.9l8.3 8.3m0 -8.3l-8.3 8.3M789 274.6l8.3 8.3m0 -8.3l-8.3 8.3M788.8 276.3l8.3 8.3m0 -8.3l-8.3 8.3M788.6 278l8.3 8.3m0 -8.3l-8.3 8.3M788.6 279.7l8.3 8.3m0 -8.3l-8.3 8.3M788.8 281.4l8.3 8.3m0 -8.3l-8.3 8.3M788.9 283.1l8.3 8.3m0 -8.3l-8.3 8.3M789 284.8l8.3 8.3m0 -8.3l-8.3 8.3M789.1 286.5l8.3 8.3m0 -8.3l-8.3 8.3M789.2 288.2l8.3 8.3m0 -8.3l-8.3 8.3M789.3 289.9l8.3 8.3m0 -8.3l-8.3 8.3M789.4 291.6l8.3 8.3m0 -8.3l-8.3 8.3M789.4 293.3l8.3 8.3m0 -8.3l-8.3 8.3M789.3 295l8.3 8.3m0 -8.3l-8.3 8.3M789 296.7l8.3 8.3m0 -8.3l-8.3 8.3M788.6 298.4l8.3 8.3m0 -8.3l-8.3 8.3M788.3 300.1l8.3 8.3m0 -8.3l-8.3 8.3M788 301.8l8.3 8.3m0 -8.3l-8.3 8.3M787.7 303.5l8.3 8.3m0 -8.3l-8.3 8.3M787.4 305.2l8.3 8.3m0 -8.3l-8.3 8.3M787.2 306.9l8.3 8.3m0 -8.3l-8.3 8.3M787 308.6l8.3 8.3m0 -8.3l-8.3 8.3M786.8 310.3l8.3 8.3m0 -8.3l-8.3 8.3M786.7 312l8.3 8.3m0 -8.3l-8.3 8.3M786.3 313.7l8.3 8.3m0 -8.3l-8.3 8.3M785.9 315.4l8.3 8.3m0 -8.3l-8.3 8.3M785.6 317.1l8.3 8.3m0 -8.3l-8.3 8.3M785.2 318.8l8.3 8.3m0 -8.3l-8.3 8.3M784.9 320.5l8.3 8.3m0 -8.3l-8.3 8.3M784.7 322.2l8.3 8.3m0 -8.3l-8.3 8.3M784.5 323.9l8.3 8.3m0 -8.3l-8.3 8.3M784.4 325.6l8.3 8.3m0 -8.3l-8.3 8.3M784.4 327.3l8.3 8.3m0 -8.3l-8.3 8.3M784.4 329l8.3 8.3m0 -8.3l-8.3 8.3M784.5 330.7l8.3 8.3m0 -8.3l-8.3 8.3M784.7 332.4l8.3 8.3m0 -8.3l-8.3 8.3M784.6 334.1l8.3 8.3m0 -8.3l-8.3 8.3M784.4 335.8l8.3 8.3m0 -8.3l-8.3 8.3M784.2 337.5l8.3 8.3m0 -8.3l-8.3 8.3M783.8 339.2l8.3 8.3m0 -8.3l-8.3 8.3M783.5 340.9l8.3 8.3m0 -8.3l-8.3 8.3M783.2 342.6l8.3 8.3m0 -8.3l-8.3 8.3M782.9 344.3l8.3 8.3m0 -8.3l-8.3 8.3M782.6 346l8.3 8.3m0 -8.3l-8.3 8.3M782.3 347.7l8.3 8.3m0 -8.3l-8.3 8.3M782.1 349.4l8.3 8.3m0 -8.3l-8.3 8.3M781.8 351.1l8.3 8.3m0 -8.3l-8.3 8.3M781.5 352.8l8.3 8.3m0 -8.3l-8.3 8.3M781.4 354.5l8.3 8.3m0 -8.3l-8.3 8.3M781.7 356.2l8.3 8.3m0 -8.3l-8.3 8.3M782 357.9l8.3 8.3m0 -8.3l-8.3 8.3M782.3 359.6l8.3 8.3m0 -8.3l-8.3 8.3M782.8 361.3l8.3 8.3m0 -8.3l-8.3 8.3M783.4 363l8.3 8.3m0 -8.3l-8.3 8.3M784.2 364.7l8.3 8.3m0 -8.3l-8.3 8.3M785 366.4l8.3 8.3m0 -8.3l-8.3 8.3M785.7 368.1l8.3 8.3m0 -8.3l-8.3 8.3M786.3 369.8l8.3 8.3m0 -8.3l-8.3 8.3M786.8 371.5l8.3 8.3m0 -8.3l-8.3 8.3M787.1 373.2l8.3 8.3m0 -8.3l-8.3 8.3M787.6 374.9l8.3 8.3m0 -8.3l-8.3 8.3M788.2 376.6l8.3 8.3m0 -8.3l-8.3 8.3M788.7 378.3l8.3 8.3m0 -8.3l-8.3 8.3M789.1 380l8.3 8.3m0 -8.3l-8.3 8.3M789.5 381.7l8.3 8.3m0 -8.3l-8.3 8.3M789.8 383.4l8.3 8.3m0 -8.3l-8.3 8.3M790.2 385.1l8.3 8.3m0 -8.3l-8.3 8.3M790.5 386.8l8.3 8.3m0 -8.3l-8.3 8.3M790.5 388.5l8.3 8.3m0 -8.3l-8.3 8.3M790.5 390.2l8.3 8.3m0 -8.3l-8.3 8.3M790.5 391.9l8.3 8.3m0 -8.3l-8.3 8.3M790.3 393.6l8.3 8.3m0 -8.3l-8.3 8.3M790 395.3l8.3 8.3m0 -8.3l-8.3 8.3M789.7 397l8.3 8.3m0 -8.3l-8.3 8.3M789.4 398.7l8.3 8.3m0 -8.3l-8.3 8.3M789.2 400.4l8.3 8.3m0 -8.3l-8.3 8.3M789.4 402.1l8.3 8.3m0 -8.3l-8.3 8.3M789.5 403.8l8.3 8.3m0 -8.3l-8.3 8.3M789.7 405.5l8.3 8.3m0 -8.3l-8.3 8.3M789.9 407.2l8.3 8.3m0 -8.3l-8.3 8.3M789.8 408.9l8.3 8.3m0 -8.3l-8.3 8.3M789.7 410.6l8.3 8.3m0 -8.3l-8.3 8.3M789.6 412.3l8.3 8.3m0 -8.3l-8.3 8.3M789.5 414l8.3 8.3m0 -8.3l-8.3 8.3M789.4 415.7l8.3 8.3m0 -8.3l-8.3 8.3M789.4 417.4l8.3 8.3m0 -8.3l-8.3 8.3M789.3 419.1l8.3 8.3m0 -8.3l-8.3 8.3M789.3 420.8l8.3 8.3m0 -8.3l-8.3 8.3M789.3 422.5l8.3 8.3m0 -8.3l-8.3 8.3M789.3 424.2l8.3 8.3m0 -8.3l-8.3 8.3M789.4 425.9l8.3 8.3m0 -8.3l-8.3 8.3M789.4 427.6l8.3 8.3m0 -8.3l-8.3 8.3M789.3 429.3l8.3 8.3m0 -8.3l-8.3 8.3M789.1 431l8.3 8.3m0 -8.3l-8.3 8.3M788.9 432.7l8.3 8.3m0 -8.3l-8.3 8.3M788.6 434.4l8.3 8.3m0 -8.3l-8.3 8.3M788.5 436.1l8.3 8.3m0 -8.3l-8.3 8.3M788.3 437.8l8.3 8.3m0 -8.3l-8.3 8.3M788.2 439.5l8.3 8.3m0 -8.3l-8.3 8.3M788 441.2l8.3 8.3m0 -8.3l-8.3 8.3M787.9 442.9l8.3 8.3m0 -8.3l-8.3 8.3M787.8 444.6l8.3 8.3m0 -8.3l-8.3 8.3M787.8 446.3l8.3 8.3m0 -8.3l-8.3 8.3M787.7 448l8.3 8.3m0 -8.3l-8.3 8.3M788.1 449.7l8.3 8.3m0 -8.3l-8.3 8.3M788.4 451.4l8.3 8.3m0 -8.3l-8.3 8.3M788.8 453.1l8.3 8.3m0 -8.3l-8.3 8.3M789.1 454.8l8.3 8.3m0 -8.3l-8.3 8.3M789.1 456.5l8.3 8.3m0 -8.3l-8.3 8.3M789.2 458.2l8.3 8.3m0 -8.3l-8.3 8.3M789.2 459.9l8.3 8.3m0 -8.3l-8.3 8.3M789.2 461.6l8.3 8.3m0 -8.3l-8.3 8.3M789 463.3l8.3 8.3m0 -8.3l-8.3 8.3M788.7 465l8.3 8.3m0 -8.3l-8.3 8.3M788.4 466.7l8.3 8.3m0 -8.3l-8.3 8.3M788.1 468.4l8.3 8.3m0 -8.3l-8.3 8.3M788.4 470.1l8.3 8.3m0 -8.3l-8.3 8.3M788.7 471.8l8.3 8.3m0 -8.3l-8.3 8.3M789.1 473.5l8.3 8.3m0 -8.3l-8.3 8.3M789.4 475.2l8.3 8.3m0 -8.3l-8.3 8.3M789.5 476.9l8.3 8.3m0 -8.3l-8.3 8.3M789.6 478.6l8.3 8.3m0 -8.3l-8.3 8.3M789.8 480.3l8.3 8.3m0 -8.3l-8.3 8.3M790.1 482l8.3 8.3m0 -8.3l-8.3 8.3M790.3 483.7l8.3 8.3m0 -8.3l-8.3 8.3M790.5 485.4l8.3 8.3m0 -8.3l-8.3 8.3M790.7 487.1l8.3 8.3m0 -8.3l-8.3 8.3M790.9 488.8l8.3 8.3m0 -8.3l-8.3 8.3M791.4 490.5l8.3 8.3m0 -8.3l-8.3 8.3M791.9 492.2l8.3 8.3m0 -8.3l-8.3 8.3M792.3 493.9l8.3 8.3m0 -8.3l-8.3 8.3M792.8 495.6l8.3 8.3m0 -8.3l-8.3 8.3M793.2 497.3l8.3 8.3m0 -8.3l-8.3 8.3M793.7 499l8.3 8.3m0 -8.3l-8.3 8.3M794.1 500.7l8.3 8.3m0 -8.3l-8.3 8.3M794.5 502.4l8.3 8.3m0 -8.3l-8.3 8.3M794.7 504.1l8.3 8.3m0 -8.3l-8.3 8.3M794.9 505.8l8.3 8.3m0 -8.3l-8.3 8.3M795.1 507.5l8.3 8.3m0 -8.3l-8.3 8.3M795.3 509.2l8.3 8.3m0 -8.3l-8.3 8.3M795.2 510.9l8.3 8.3m0 -8.3l-8.3 8.3M795.1 512.6l8.3 8.3m0 -8.3l-8.3 8.3M795 514.3l8.3 8.3m0 -8.3l-8.3 8.3M794.9 516l8.3 8.3m0 -8.3l-8.3 8.3M795.2 517.7l8.3 8.3m0 -8.3l-8.3 8.3M795.4 519.4l8.3 8.3m0 -8.3l-8.3 8.3M795.6 521.1l8.3 8.3m0 -8.3l-8.3 8.3M795.9 522.8l8.3 8.3m0 -8.3l-8.3 8.3M795.6 524.5l8.3 8.3m0 -8.3l-8.3 8.3M795.4 526.2l8.3 8.3m0 -8.3l-8.3 8.3M795.2 527.9l8.3 8.3m0 -8.3l-8.3 8.3M795 529.6l8.3 8.3m0 -8.3l-8.3 8.3M795.1 531.3l8.3 8.3m0 -8.3l-8.3 8.3M795.3 533l8.3 8.3m0 -8.3l-8.3 8.3M795.4 534.7l8.3 8.3m0 -8.3l-8.3 8.3M795.5 536.4l8.3 8.3m0 -8.3l-8.3 8.3M795.4 538.1l8.3 8.3m0 -8.3l-8.3 8.3M795.3 539.8l8.3 8.3m0 -8.3l-8.3 8.3M795.2 541.5l8.3 8.3m0 -8.3l-8.3 8.3M795.2 543.2l8.3 8.3m0 -8.3l-8.3 8.3M795 544.9l8.3 8.3m0 -8.3l-8.3 8.3M794.7 546.6l8.3 8.3m0 -8.3l-8.3 8.3M794.5 548.3l8.3 8.3m0 -8.3l-8.3 8.3M794.3 550l8.3 8.3m0 -8.3l-8.3 8.3M794.3 551.7l8.3 8.3m0 -8.3l-8.3 8.3M794.4 553.4l8.3 8.3m0 -8.3l-8.3 8.3M794.4 555.1l8.3 8.3m0 -8.3l-8.3 8.3M794.4 556.8l8.3 8.3m0 -8.3l-8.3 8.3M794.6 558.5l8.3 8.3m0 -8.3l-8.3 8.3M794.7 560.2l8.3 8.3m0 -8.3l-8.3 8.3M794.9 561.9l8.3 8.3m0 -8.3l-8.3 8.3M795 563.6l8.3 8.3m0 -8.3l-8.3 8.3M794.9 565.3l8.3 8.3m0 -8.3l-8.3 8.3M794.8 567l8.3 8.3m0 -8.3l-8.3 8.3M794.8 568.7l8.3 8.3m0 -8.3l-8.3 8.3M794.7 570.4l8.3 8.3m0 -8.3l-8.3 8.3" stroke="#1f77b4" fill="none" stroke-width="1.39" stroke-linecap="butt"/><circle cx="882.3" cy="72.5" r="4.17" fill="#ff0000" stroke="#ff0000" stroke-width="1.39"/><circle cx="876.2" cy="73.1" r="4.17" fill="#ff0000" stroke="#ff0000" stroke-width="1.39"/></g>
<g clip-path="url(#c2)"><path d="M1019.3 40.2 L1019.3 40.8 L1019.3 41.5 L1019.4 42.4 L1019.4 43 L1019.4 43.6 L1019.5 46 L1019.6 48.6 L1018.6 50.8 L1018.6 52.8 L1018.6 54.5 L1018.7 56.9 L1018.7 58.5 L1018.7 60.5 L1018.8 62.1 L1018.8 64 L1018.8 65.6 L1018.8 67.1 L1018.9 69.3 L1018.5 71.6 L1016.6 72.5 L1015.4 73.1 L1041.4 74.5 L1052.5 75 L1096.8 76.5 L1110.5 77.1 L1116.1 77.8 L1120.7 78.5 L1124.6 80 L1125.9 80.4 L1132.9 82.1 L1134.6 82.5 L1140.1 83.7 L1142 84.1 L1145.8 85.5 L1147.2 86 L1151.5 86.9 L1154.1 87.4 L1160.7 88.7 L1162.9 89.1 L1175.7 90.7 L1180 91.2 L1183.4 92.1 L1185.7 92.6 L1196.7 95.1 L1199.4 95.8 L1199.7 96.3 L1200.2 96.9 L1200.6 97.4 L1201 97.9 L1208.3 100.1 L1215.7 101.8 L1218.2 102.3 L1221.9 103.4 L1223.9 104 L1225.2 104.8 L1225.9 105.3 L1228.3 106.8 L1229.1 107.4 L1236.8 109 L1248.6 112.9 L1257.7 118.6 L1268 124.3 L1278.3 132.3 L1288.6 140.3 L1294.3 149.4 L1302.3 157.4 L1311.4 170 L1317.1 181.4 L1321.7 192.9 L1325 200 L1329.7 215.7 L1333 230 L1337.5 300 L1341.5 350 L1344.5 400 L1348.5 470 L1350 515 L1351.5 560 L1351.7 575" stroke="#1f77b4" fill="none" stroke-width="2.08" stroke-linejoin="round" stroke-linecap="butt"/><path d="M1019.3 40.2 L1019.3 40.8 L1019.3 41.5 L1019.4 42.4 L1019.4 43 L1019.4 43.6 L1019.5 46 L1019.6 48.6 L1018.6 50.8 L1018.6 52.8 L1018.6 54.5 L1018.7 56.9 L1018.7 58.5 L1018.7 60.5 L1018.8 62.1 L1018.8 64 L1018.8 65.6 L1018.8 67.1 L1018.9 69.3 L1018.5 71.6" stroke="#bf00bf" fill="none" stroke-width="2.08" stroke-linejoin="round" stroke-linecap="butt" stroke-dasharray="7.7 3.33"/><path d="M1041.4 74.5 L1052.5 75 L1096.8 76.5 L1110.5 77.1 L1116.1 77.8 L1120.7 78.5 L1124.6 80 L1125.9 80.4 L1132.9 82.1 L1134.6 82.5 L1140.1 83.7 L1142 84.1 L1145.8 85.5 L1147.2 86 L1151.5 86.9 L1154.1 87.4 L1160.7 88.7 L1162.9 89.1 L1175.7 90.7 L1180 91.2 L1183.4 92.1 L1185.7 92.6 L1196.7 95.1 L1199.4 95.8 L1199.7 96.3 L1200.2 96.9 L1200.6 97.4 L1201 97.9 L1208.3 100.1 L1215.7 101.8 L1218.2 102.3 L1221.9 103.4 L1223.9 104 L1225.2 104.8 L1225.9 105.3 L1228.3 106.8 L1229.1 107.4 L1236.8 109 L1248.6 112.9 L1257.7 118.6 L1268 124.3 L1278.3 132.3 L1288.6 140.3 L1294.3 149.4 L1302.3 157.4 L1311.4 170 L1317.1 181.4 L1321.7 192.9 L1325 200 L1329.7 215.7 L1333 230 L1337.5 300 L1341.5 350 L1344.5 400 L1348.5 470 L1350 515 L1351.5 560 L1351.7 575" stroke="#bf00bf" fill="none" stroke-width="2.08" stroke-linejoin="round" stroke-linecap="butt" stroke-dasharray="7.7 3.33"/><path d="M1019.3 36.1L1015.1 44.4L1023.5 44.4ZM1019.3 36.6L1015.1 45L1023.5 45ZM1019.3 37.4L1015.2 45.7L1023.5 45.7ZM1019.4 38.2L1015.2 46.5L1023.5 46.5ZM1019.4 38.8L1015.2 47.2L1023.6 47.2ZM1019.4 39.5L1015.2 47.8L1023.6 47.8ZM1019.5 41.9L1015.3 50.2L1023.7 50.2ZM1019.6 44.5L1015.4 52.8L1023.8 52.8ZM1018.6 46.6L1014.4 54.9L1022.7 54.9ZM1018.6 48.6L1014.4 56.9L1022.8 56.9ZM1018.6 50.4L1014.5 58.7L1022.8 58.7ZM1018.7 52.7L1014.5 61.1L1022.8 61.1ZM1018.7 54.3L1014.5 62.7L1022.9 62.7ZM1018.7 56.3L1014.6 64.6L1022.9 64.6ZM1018.8 58L1014.6 66.3L1022.9 66.3ZM1018.8 59.9L1014.6 68.2L1023 68.2ZM1018.8 61.4L1014.6 69.7L1023 69.7ZM1018.8 63L1014.7 71.3L1023 71.3ZM1018.9 65.1L1014.7 73.5L1023.1 73.5ZM1018.5 67.4L1014.3 75.8L1022.7 75.8ZM1041.4 70.3L1037.2 78.6L1045.6 78.6ZM1052.5 70.8L1048.4 79.2L1056.7 79.2ZM1096.8 72.4L1092.7 80.7L1101 80.7ZM1110.5 72.9L1106.4 81.2L1114.7 81.2ZM1116.1 73.6L1111.9 82L1120.3 82ZM1120.7 74.3L1116.5 82.6L1124.9 82.6ZM1124.6 75.8L1120.4 84.1L1128.7 84.1ZM1125.9 76.3L1121.8 84.6L1130.1 84.6ZM1132.9 77.9L1128.7 86.2L1137 86.2ZM1134.6 78.3L1130.5 86.7L1138.8 86.7ZM1140.1 79.5L1135.9 87.9L1144.3 87.9ZM1142 80L1137.8 88.3L1146.2 88.3ZM1145.8 81.4L1141.7 89.7L1150 89.7ZM1147.2 81.8L1143 90.2L1151.4 90.2ZM1151.5 82.7L1147.4 91.1L1155.7 91.1ZM1154.1 83.2L1149.9 91.6L1158.3 91.6ZM1160.7 84.5L1156.6 92.8L1164.9 92.8ZM1162.9 84.9L1158.8 93.2L1167.1 93.2ZM1175.7 86.5L1171.6 94.8L1179.9 94.8ZM1180 87.1L1175.8 95.4L1184.2 95.4ZM1183.4 87.9L1179.3 96.2L1187.6 96.2ZM1185.7 88.4L1181.5 96.8L1189.9 96.8ZM1196.7 90.9L1192.6 99.3L1200.9 99.3ZM1199.4 91.6L1195.2 99.9L1203.5 99.9ZM1199.7 92.1L1195.6 100.4L1203.9 100.4ZM1200.2 92.7L1196 101L1204.4 101ZM1200.6 93.3L1196.4 101.6L1204.8 101.6ZM1201 93.8L1196.8 102.1L1205.2 102.1ZM1208.3 96L1204.1 104.3L1212.4 104.3ZM1215.7 97.6L1211.5 106L1219.9 106ZM1218.2 98.2L1214.1 106.5L1222.4 106.5ZM1221.9 99.2L1217.7 107.5L1226.1 107.5ZM1223.9 99.8L1219.8 108.2L1228.1 108.2ZM1225.2 100.6L1221 108.9L1229.3 108.9ZM1225.9 101.1L1221.7 109.4L1230.1 109.4ZM1228.3 102.7L1224.1 111L1232.4 111ZM1229.1 103.2L1224.9 111.5L1233.2 111.5ZM1236.8 104.8L1232.6 113.2L1241 113.2ZM1241.9 106.5L1237.8 114.9L1246.1 114.9ZM1247.1 108.2L1242.9 116.6L1251.3 116.6ZM1250.5 109.9L1246.3 118.3L1254.7 118.3ZM1253.2 111.6L1249.1 120L1257.4 120ZM1255.9 113.3L1251.8 121.7L1260.1 121.7ZM1258.8 115L1254.6 123.4L1263 123.4ZM1261.9 116.7L1257.7 125.1L1266 125.1ZM1264.9 118.4L1260.8 126.8L1269.1 126.8ZM1268 120.1L1263.8 128.5L1272.2 128.5ZM1270.2 121.8L1266 130.2L1274.4 130.2ZM1272.4 123.5L1268.2 131.9L1276.5 131.9ZM1274.6 125.2L1270.4 133.6L1278.7 133.6ZM1276.8 126.9L1272.6 135.3L1280.9 135.3ZM1278.9 128.6L1274.8 137L1283.1 137ZM1281.1 130.3L1277 138.7L1285.3 138.7ZM1283.3 132L1279.2 140.4L1287.5 140.4ZM1285.5 133.7L1281.3 142.1L1289.7 142.1ZM1287.7 135.4L1283.5 143.8L1291.9 143.8ZM1289.2 137.1L1285.1 145.5L1293.4 145.5ZM1290.3 138.8L1286.1 147.2L1294.5 147.2ZM1291.4 140.5L1287.2 148.9L1295.5 148.9ZM1292.4 142.2L1288.3 150.6L1296.6 150.6ZM1293.5 143.9L1289.3 152.3L1297.7 152.3ZM1294.7 145.6L1290.5 154L1298.9 154ZM1296.4 147.3L1292.2 155.7L1300.6 155.7ZM1298.1 149L1293.9 157.4L1302.3 157.4ZM1299.8 150.7L1295.6 159.1L1304 159.1ZM1301.5 152.4L1297.3 160.8L1305.7 160.8ZM1303 154.1L1298.8 162.5L1307.1 162.5ZM1304.2 155.8L1300 164.2L1308.3 164.2ZM1305.4 157.5L1301.2 165.9L1309.6 165.9ZM1306.6 159.2L1302.5 167.6L1310.8 167.6ZM1307.9 160.9L1303.7 169.3L1312 169.3ZM1309.1 162.6L1304.9 171L1313.3 171ZM1310.3 164.3L1306.1 172.7L1314.5 172.7ZM1311.5 166L1307.3 174.4L1315.7 174.4ZM1312.4 167.7L1308.2 176.1L1316.5 176.1ZM1313.2 169.4L1309 177.8L1317.4 177.8ZM1314.1 171.1L1309.9 179.5L1318.2 179.5ZM1314.9 172.8L1310.7 181.2L1319.1 181.2ZM1315.8 174.5L1311.6 182.9L1319.9 182.9ZM1316.6 176.2L1312.4 184.6L1320.8 184.6ZM1317.4 177.9L1313.2 186.3L1321.6 186.3ZM1318.1 179.6L1313.9 188L1322.2 188ZM1318.7 181.3L1314.6 189.7L1322.9 189.7ZM1319.4 183L1315.3 191.4L1323.6 191.4ZM1320.1 184.7L1315.9 193.1L1324.3 193.1ZM1320.8 186.4L1316.6 194.8L1325 194.8ZM1321.5 188.1L1317.3 196.5L1325.6 196.5ZM1322.2 189.8L1318 198.2L1326.4 198.2ZM1323 191.5L1318.8 199.9L1327.2 199.9ZM1323.8 193.2L1319.6 201.6L1328 201.6ZM1324.6 194.9L1320.4 203.3L1328.8 203.3ZM1325.2 196.6L1321.1 205L1329.4 205ZM1325.7 198.3L1321.6 206.7L1329.9 206.7ZM1326.3 200L1322.1 208.4L1330.4 208.4ZM1326.8 201.7L1322.6 210.1L1330.9 210.1ZM1327.3 203.4L1323.1 211.8L1331.4 211.8ZM1327.8 205.1L1323.6 213.5L1332 213.5ZM1328.3 206.8L1324.1 215.2L1332.5 215.2ZM1328.8 208.5L1324.6 216.9L1333 216.9ZM1329.3 210.2L1325.1 218.6L1333.5 218.6ZM1329.8 211.9L1325.6 220.3L1334 220.3ZM1330.2 213.6L1326 222L1334.4 222ZM1330.6 215.3L1326.4 223.7L1334.7 223.7ZM1331 217L1326.8 225.4L1335.1 225.4ZM1331.4 218.7L1327.2 227.1L1335.5 227.1ZM1331.8 220.4L1327.6 228.8L1335.9 228.8ZM1332.1 222.1L1328 230.5L1336.3 230.5ZM1332.5 223.8L1328.4 232.2L1336.7 232.2ZM1332.9 225.5L1328.8 233.9L1337.1 233.9ZM1333.1 227.2L1328.9 235.6L1337.3 235.6ZM1333.2 228.9L1329 237.3L1337.4 237.3ZM1333.3 230.6L1329.1 239L1337.5 239ZM1333.4 232.3L1329.2 240.7L1337.6 240.7ZM1333.5 234L1329.4 242.4L1337.7 242.4ZM1333.6 235.7L1329.5 244.1L1337.8 244.1ZM1333.7 237.4L1329.6 245.8L1337.9 245.8ZM1333.9 239.1L1329.7 247.5L1338 247.5ZM1334 240.8L1329.8 249.2L1338.1 249.2ZM1334.1 242.5L1329.9 250.9L1338.2 250.9ZM1334.2 244.2L1330 252.6L1338.4 252.6ZM1334.3 245.9L1330.1 254.3L1338.5 254.3ZM1334.4 247.6L1330.2 256L1338.6 256ZM1334.5 249.3L1330.3 257.7L1338.7 257.7ZM1334.6 251L1330.5 259.4L1338.8 259.4ZM1334.7 252.7L1330.6 261.1L1338.9 261.1ZM1334.8 254.4L1330.7 262.8L1339 262.8ZM1334.9 256.1L1330.8 264.5L1339.1 264.5ZM1335.1 257.8L1330.9 266.2L1339.2 266.2ZM1335.2 259.5L1331 267.9L1339.3 267.9ZM1335.3 261.2L1331.1 269.6L1339.4 269.6ZM1335.4 262.9L1331.2 271.3L1339.6 271.3ZM1335.5 264.6L1331.3 273L1339.7 273ZM1335.6 266.3L1331.4 274.7L1339.8 274.7ZM1335.7 268L1331.5 276.4L1339.9 276.4ZM1335.8 269.7L1331.7 278.1L1340 278.1ZM1335.9 271.4L1331.8 279.8L1340.1 279.8ZM1336 273.1L1331.9 281.5L1340.2 281.5ZM1336.2 274.8L1332 283.2L1340.3 283.2ZM1336.3 276.5L1332.1 284.9L1340.4 284.9ZM1336.4 278.2L1332.2 286.6L1340.5 286.6ZM1336.5 279.9L1332.3 288.3L1340.6 288.3ZM1336.6 281.6L1332.4 290L1340.8 290ZM1336.7 283.3L1332.5 291.7L1340.9 291.7ZM1336.8 285L1332.6 293.4L1341 293.4ZM1336.9 286.7L1332.7 295.1L1341.1 295.1ZM1337 288.4L1332.9 296.8L1341.2 296.8ZM1337.1 290.1L1333 298.5L1341.3 298.5ZM1337.2 291.8L1333.1 300.2L1341.4 300.2ZM1337.4 293.5L1333.2 301.9L1341.5 301.9ZM1337.5 295.2L1333.3 303.6L1341.6 303.6ZM1337.6 296.9L1333.4 305.3L1341.8 305.3ZM1337.7 298.6L1333.6 307L1341.9 307ZM1337.9 300.3L1333.7 308.7L1342 308.7ZM1338 302L1333.8 310.4L1342.2 310.4ZM1338.1 303.7L1334 312.1L1342.3 312.1ZM1338.3 305.4L1334.1 313.8L1342.4 313.8ZM1338.4 307.1L1334.2 315.5L1342.6 315.5ZM1338.5 308.8L1334.4 317.2L1342.7 317.2ZM1338.7 310.5L1334.5 318.9L1342.8 318.9ZM1338.8 312.2L1334.6 320.6L1343 320.6ZM1338.9 313.9L1334.8 322.3L1343.1 322.3ZM1339.1 315.6L1334.9 324L1343.3 324ZM1339.2 317.3L1335.1 325.7L1343.4 325.7ZM1339.4 319L1335.2 327.4L1343.5 327.4ZM1339.5 320.7L1335.3 329.1L1343.7 329.1ZM1339.6 322.4L1335.5 330.8L1343.8 330.8ZM1339.8 324.1L1335.6 332.5L1343.9 332.5ZM1339.9 325.8L1335.7 334.2L1344.1 334.2ZM1340 327.5L1335.9 335.9L1344.2 335.9ZM1340.2 329.2L1336 337.6L1344.3 337.6ZM1340.3 330.9L1336.1 339.3L1344.5 339.3ZM1340.4 332.6L1336.3 341L1344.6 341ZM1340.6 334.3L1336.4 342.7L1344.8 342.7ZM1340.7 336L1336.5 344.4L1344.9 344.4ZM1340.9 337.7L1336.7 346.1L1345 346.1ZM1341 339.4L1336.8 347.8L1345.2 347.8ZM1341.1 341.1L1337 349.5L1345.3 349.5ZM1341.3 342.8L1337.1 351.2L1345.4 351.2ZM1341.4 344.5L1337.2 352.9L1345.6 352.9ZM1341.5 346.2L1337.4 354.6L1345.7 354.6ZM1341.6 347.9L1337.5 356.3L1345.8 356.3ZM1341.7 349.6L1337.6 358L1345.9 358ZM1341.8 351.3L1337.7 359.7L1346 359.7ZM1341.9 353L1337.8 361.4L1346.1 361.4ZM1342 354.7L1337.9 363.1L1346.2 363.1ZM1342.1 356.4L1338 364.8L1346.3 364.8ZM1342.2 358.1L1338.1 366.5L1346.4 366.5ZM1342.3 359.8L1338.2 368.2L1346.5 368.2ZM1342.4 361.5L1338.3 369.9L1346.6 369.9ZM1342.5 363.2L1338.4 371.6L1346.7 371.6ZM1342.6 364.9L1338.5 373.3L1346.8 373.3ZM1342.7 366.6L1338.6 375L1346.9 375ZM1342.9 368.3L1338.7 376.7L1347 376.7ZM1343 370L1338.8 378.4L1347.1 378.4ZM1343.1 371.7L1338.9 380.1L1347.2 380.1ZM1343.2 373.4L1339 381.8L1347.3 381.8ZM1343.3 375.1L1339.1 383.5L1347.4 383.5ZM1343.4 376.8L1339.2 385.2L1347.5 385.2ZM1343.5 378.5L1339.3 386.9L1347.6 386.9ZM1343.6 380.2L1339.4 388.6L1347.7 388.6ZM1343.7 381.9L1339.5 390.3L1347.8 390.3ZM1343.8 383.6L1339.6 392L1347.9 392ZM1343.9 385.3L1339.7 393.7L1348 393.7ZM1344 387L1339.8 395.4L1348.1 395.4ZM1344.1 388.7L1339.9 397.1L1348.2 397.1ZM1344.2 390.4L1340 398.8L1348.3 398.8ZM1344.3 392.1L1340.1 400.5L1348.4 400.5ZM1344.4 393.8L1340.2 402.2L1348.6 402.2ZM1344.5 395.5L1340.3 403.9L1348.7 403.9ZM1344.6 397.2L1340.4 405.6L1348.8 405.6ZM1344.7 398.9L1340.5 407.3L1348.8 407.3ZM1344.8 400.6L1340.6 409L1348.9 409ZM1344.9 402.3L1340.7 410.7L1349 410.7ZM1345 404L1340.8 412.4L1349.1 412.4ZM1345.1 405.7L1340.9 414.1L1349.2 414.1ZM1345.2 407.4L1341 415.8L1349.3 415.8ZM1345.3 409.1L1341.1 417.5L1349.4 417.5ZM1345.4 410.8L1341.2 419.2L1349.5 419.2ZM1345.5 412.5L1341.3 420.9L1349.6 420.9ZM1345.6 414.2L1341.4 422.6L1349.7 422.6ZM1345.6 415.9L1341.5 424.3L1349.8 424.3ZM1345.7 417.6L1341.6 426L1349.9 426ZM1345.8 419.3L1341.7 427.7L1350 427.7ZM1345.9 421L1341.8 429.4L1350.1 429.4ZM1346 422.7L1341.9 431.1L1350.2 431.1ZM1346.1 424.4L1342 432.8L1350.3 432.8ZM1346.2 426.1L1342.1 434.5L1350.4 434.5ZM1346.3 427.8L1342.2 436.2L1350.5 436.2ZM1346.4 429.5L1342.3 437.9L1350.6 437.9ZM1346.5 431.2L1342.4 439.6L1350.7 439.6ZM1346.6 432.9L1342.5 441.3L1350.8 441.3ZM1346.7 434.6L1342.5 443L1350.9 443ZM1346.8 436.3L1342.6 444.7L1351 444.7ZM1346.9 438L1342.7 446.4L1351.1 446.4ZM1347 439.7L1342.8 448.1L1351.2 448.1ZM1347.1 441.4L1342.9 449.8L1351.3 449.8ZM1347.2 443.1L1343 451.5L1351.4 451.5ZM1347.3 444.8L1343.1 453.2L1351.5 453.2ZM1347.4 446.5L1343.2 454.9L1351.6 454.9ZM1347.5 448.2L1343.3 456.6L1351.7 456.6ZM1347.6 449.9L1343.4 458.3L1351.8 458.3ZM1347.7 451.6L1343.5 460L1351.9 460ZM1347.8 453.3L1343.6 461.7L1352 461.7ZM1347.9 455L1343.7 463.4L1352.1 463.4ZM1348 456.7L1343.8 465.1L1352.2 465.1ZM1348.1 458.4L1343.9 466.8L1352.2 466.8ZM1348.2 460.1L1344 468.5L1352.3 468.5ZM1348.3 461.8L1344.1 470.2L1352.4 470.2ZM1348.4 463.5L1344.2 471.9L1352.5 471.9ZM1348.5 465.2L1344.3 473.6L1352.6 473.6ZM1348.5 466.9L1344.4 475.3L1352.7 475.3ZM1348.6 468.6L1344.4 477L1352.8 477ZM1348.7 470.3L1344.5 478.7L1352.8 478.7ZM1348.7 472L1344.5 480.4L1352.9 480.4ZM1348.8 473.7L1344.6 482.1L1352.9 482.1ZM1348.8 475.4L1344.7 483.8L1353 483.8ZM1348.9 477.1L1344.7 485.5L1353 485.5ZM1348.9 478.8L1344.8 487.2L1353.1 487.2ZM1349 480.5L1344.8 488.9L1353.2 488.9ZM1349 482.2L1344.9 490.6L1353.2 490.6ZM1349.1 483.9L1344.9 492.3L1353.3 492.3ZM1349.2 485.6L1345 494L1353.3 494ZM1349.2 487.3L1345 495.7L1353.4 495.7ZM1349.3 489L1345.1 497.4L1353.4 497.4ZM1349.3 490.7L1345.2 499.1L1353.5 499.1ZM1349.4 492.4L1345.2 500.8L1353.6 500.8ZM1349.4 494.1L1345.3 502.5L1353.6 502.5ZM1349.5 495.8L1345.3 504.2L1353.7 504.2ZM1349.6 497.5L1345.4 505.9L1353.7 505.9ZM1349.6 499.2L1345.4 507.6L1353.8 507.6ZM1349.7 500.9L1345.5 509.3L1353.8 509.3ZM1349.7 502.6L1345.6 511L1353.9 511ZM1349.8 504.3L1345.6 512.7L1354 512.7ZM1349.8 506L1345.7 514.4L1354 514.4ZM1349.9 507.7L1345.7 516.1L1354.1 516.1ZM1350 509.4L1345.8 517.8L1354.1 517.8ZM1350 511.1L1345.8 519.5L1354.2 519.5ZM1350.1 512.8L1345.9 521.2L1354.2 521.2ZM1350.1 514.5L1346 522.9L1354.3 522.9ZM1350.2 516.2L1346 524.6L1354.4 524.6ZM1350.2 517.9L1346.1 526.3L1354.4 526.3ZM1350.3 519.6L1346.1 528L1354.5 528ZM1350.4 521.3L1346.2 529.7L1354.5 529.7ZM1350.4 523L1346.2 531.4L1354.6 531.4ZM1350.5 524.7L1346.3 533.1L1354.6 533.1ZM1350.5 526.4L1346.4 534.8L1354.7 534.8ZM1350.6 528.1L1346.4 536.5L1354.7 536.5ZM1350.6 529.8L1346.5 538.2L1354.8 538.2ZM1350.7 531.5L1346.5 539.9L1354.9 539.9ZM1350.7 533.2L1346.6 541.6L1354.9 541.6ZM1350.8 534.9L1346.6 543.3L1355 543.3ZM1350.9 536.6L1346.7 545L1355 545ZM1350.9 538.3L1346.7 546.7L1355.1 546.7ZM1351 540L1346.8 548.4L1355.1 548.4ZM1351 541.7L1346.9 550.1L1355.2 550.1ZM1351.1 543.4L1346.9 551.8L1355.3 551.8ZM1351.1 545.1L1347 553.5L1355.3 553.5ZM1351.2 546.8L1347 555.2L1355.4 555.2ZM1351.3 548.5L1347.1 556.9L1355.4 556.9ZM1351.3 550.2L1347.1 558.6L1355.5 558.6ZM1351.4 551.9L1347.2 560.3L1355.5 560.3ZM1351.4 553.6L1347.3 562L1355.6 562ZM1351.5 555.3L1347.3 563.7L1355.7 563.7ZM1351.5 557L1347.3 565.4L1355.7 565.4ZM1351.5 558.7L1347.4 567.1L1355.7 567.1ZM1351.6 560.4L1347.4 568.8L1355.7 568.8ZM1351.6 562.1L1347.4 570.5L1355.8 570.5ZM1351.6 563.8L1347.4 572.2L1355.8 572.2ZM1351.6 565.5L1347.5 573.9L1355.8 573.9ZM1351.7 567.2L1347.5 575.6L1355.8 575.6ZM1351.7 568.9L1347.5 577.3L1355.8 577.3ZM1351.7 570.6L1347.5 579L1355.9 579Z" fill="#bf00bf" stroke="#bf00bf" stroke-width="1.39" stroke-linejoin="round"/></g>
<g fill="none" stroke="#000" stroke-width="1.11" stroke-linejoin="miter" stroke-linecap="square"><rect x="71.5" y="35.5" width="404" height="524"/><rect x="526.5" y="35.5" width="404" height="524"/><rect x="981.5" y="35.5" width="404" height="524"/><rect x="71.5" y="618.4" width="404" height="524"/><rect x="526.5" y="618.4" width="404" height="524"/><rect x="981.5" y="618.4" width="404" height="524"/></g>
<path d="M112.5 559.5v4.9M169.4 559.5v4.9M226.2 559.5v4.9M283 559.5v4.9M339.8 559.5v4.9M396.7 559.5v4.9M453.5 559.5v4.9M573.5 559.5v4.9M649.5 559.5v4.9M725.5 559.5v4.9M801.5 559.5v4.9M877.5 559.5v4.9M1031.5 559.5v4.9M1084 559.5v4.9M1136.5 559.5v4.9M1189 559.5v4.9M1241.5 559.5v4.9M1294 559.5v4.9M1346.5 559.5v4.9M92.4 1142.4v4.9M165.2 1142.4v4.9M238.1 1142.4v4.9M310.9 1142.4v4.9M383.7 1142.4v4.9M456.5 1142.4v4.9M573.5 1142.4v4.9M649.5 1142.4v4.9M725.5 1142.4v4.9M801.5 1142.4v4.9M877.5 1142.4v4.9M1039.5 1142.4v4.9M1119.2 1142.4v4.9M1199 1142.4v4.9M1278.7 1142.4v4.9M1358.4 1142.4v4.9M71.5 35.5h-4.9M71.5 125.7h-4.9M71.5 215.9h-4.9M71.5 306.1h-4.9M71.5 396.3h-4.9M71.5 486.5h-4.9M526.5 35.5h-4.9M526.5 125.7h-4.9M526.5 215.9h-4.9M526.5 306.1h-4.9M526.5 396.3h-4.9M526.5 486.5h-4.9M981.5 35.5h-4.9M981.5 125.7h-4.9M981.5 215.9h-4.9M981.5 306.1h-4.9M981.5 396.3h-4.9M981.5 486.5h-4.9M71.5 675.4h-4.9M71.5 740.4h-4.9M71.5 805.4h-4.9M71.5 870.4h-4.9M71.5 935.4h-4.9M71.5 1000.4h-4.9M71.5 1065.4h-4.9M71.5 1130.4h-4.9M526.5 675.4h-4.9M526.5 740.4h-4.9M526.5 805.4h-4.9M526.5 870.4h-4.9M526.5 935.4h-4.9M526.5 1000.4h-4.9M526.5 1065.4h-4.9M526.5 1130.4h-4.9M981.5 675.4h-4.9M981.5 740.4h-4.9M981.5 805.4h-4.9M981.5 870.4h-4.9M981.5 935.4h-4.9M981.5 1000.4h-4.9M981.5 1065.4h-4.9M981.5 1130.4h-4.9" stroke="#000" stroke-width="1.11" fill="none"/>
<text x="103.67" y="580.10" font-size="14.0" textLength="17.14" lengthAdjust="spacingAndGlyphs">16</text><text x="160.55" y="580.10" font-size="14.0" textLength="17.03" lengthAdjust="spacingAndGlyphs">18</text><text x="217.56" y="580.10" font-size="14.0" textLength="17.10" lengthAdjust="spacingAndGlyphs">20</text><text x="274.60" y="580.10" font-size="14.0" textLength="16.78" lengthAdjust="spacingAndGlyphs">22</text><text x="331.12" y="580.10" font-size="14.0" textLength="17.08" lengthAdjust="spacingAndGlyphs">24</text><text x="387.99" y="580.10" font-size="14.0" textLength="17.21" lengthAdjust="spacingAndGlyphs">26</text><text x="444.87" y="580.10" font-size="14.0" textLength="17.10" lengthAdjust="spacingAndGlyphs">28</text><text x="558.39" y="580.10" font-size="14.0" textLength="30.26" lengthAdjust="spacingAndGlyphs">38.6</text><text x="634.45" y="580.10" font-size="14.0" textLength="30.16" lengthAdjust="spacingAndGlyphs">38.8</text><text x="710.46" y="580.10" font-size="14.0" textLength="30.16" lengthAdjust="spacingAndGlyphs">39.0</text><text x="786.68" y="580.10" font-size="14.0" textLength="29.86" lengthAdjust="spacingAndGlyphs">39.2</text><text x="862.38" y="580.10" font-size="14.0" textLength="30.14" lengthAdjust="spacingAndGlyphs">39.4</text><text x="1016.22" y="580.10" font-size="14.0" textLength="30.39" lengthAdjust="spacingAndGlyphs">26.0</text><text x="1068.88" y="580.10" font-size="14.0" textLength="30.08" lengthAdjust="spacingAndGlyphs">26.5</text><text x="1121.22" y="580.10" font-size="14.0" textLength="30.39" lengthAdjust="spacingAndGlyphs">27.0</text><text x="1173.88" y="580.10" font-size="14.0" textLength="30.08" lengthAdjust="spacingAndGlyphs">27.5</text><text x="1226.22" y="580.10" font-size="14.0" textLength="30.39" lengthAdjust="spacingAndGlyphs">28.0</text><text x="1278.88" y="580.10" font-size="14.0" textLength="30.08" lengthAdjust="spacingAndGlyphs">28.5</text><text x="1331.22" y="580.10" font-size="14.0" textLength="30.39" lengthAdjust="spacingAndGlyphs">29.0</text><text x="83.63" y="1163.00" font-size="14.0" textLength="17.03" lengthAdjust="spacingAndGlyphs">18</text><text x="156.63" y="1163.00" font-size="14.0" textLength="17.10" lengthAdjust="spacingAndGlyphs">20</text><text x="229.65" y="1163.00" font-size="14.0" textLength="16.78" lengthAdjust="spacingAndGlyphs">22</text><text x="302.15" y="1163.00" font-size="14.0" textLength="17.08" lengthAdjust="spacingAndGlyphs">24</text><text x="375.01" y="1163.00" font-size="14.0" textLength="17.21" lengthAdjust="spacingAndGlyphs">26</text><text x="447.88" y="1163.00" font-size="14.0" textLength="17.10" lengthAdjust="spacingAndGlyphs">28</text><text x="558.39" y="1163.00" font-size="14.0" textLength="30.26" lengthAdjust="spacingAndGlyphs">38.6</text><text x="634.45" y="1163.00" font-size="14.0" textLength="30.16" lengthAdjust="spacingAndGlyphs">38.8</text><text x="710.46" y="1163.00" font-size="14.0" textLength="30.16" lengthAdjust="spacingAndGlyphs">39.0</text><text x="786.68" y="1163.00" font-size="14.0" textLength="29.86" lengthAdjust="spacingAndGlyphs">39.2</text><text x="862.38" y="1163.00" font-size="14.0" textLength="30.14" lengthAdjust="spacingAndGlyphs">39.4</text><text x="1024.18" y="1163.00" font-size="14.0" textLength="30.39" lengthAdjust="spacingAndGlyphs">26.0</text><text x="1104.08" y="1163.00" font-size="14.0" textLength="30.08" lengthAdjust="spacingAndGlyphs">26.5</text><text x="1183.67" y="1163.00" font-size="14.0" textLength="30.39" lengthAdjust="spacingAndGlyphs">27.0</text><text x="1263.57" y="1163.00" font-size="14.0" textLength="30.08" lengthAdjust="spacingAndGlyphs">27.5</text><text x="1343.16" y="1163.00" font-size="14.0" textLength="30.39" lengthAdjust="spacingAndGlyphs">28.0</text><text x="53.38" y="39.90" font-size="14.0" textLength="8.13" lengthAdjust="spacingAndGlyphs">0</text><text x="44.65" y="130.10" font-size="14.0" textLength="16.87" lengthAdjust="spacingAndGlyphs">50</text><text x="35.58" y="220.30" font-size="14.0" textLength="25.94" lengthAdjust="spacingAndGlyphs">100</text><text x="35.58" y="310.50" font-size="14.0" textLength="25.94" lengthAdjust="spacingAndGlyphs">150</text><text x="35.52" y="400.70" font-size="14.0" textLength="26.00" lengthAdjust="spacingAndGlyphs">200</text><text x="35.52" y="490.90" font-size="14.0" textLength="26.00" lengthAdjust="spacingAndGlyphs">250</text><text x="508.38" y="39.90" font-size="14.0" textLength="8.13" lengthAdjust="spacingAndGlyphs">0</text><text x="499.65" y="130.10" font-size="14.0" textLength="16.87" lengthAdjust="spacingAndGlyphs">50</text><text x="490.58" y="220.30" font-size="14.0" textLength="25.94" lengthAdjust="spacingAndGlyphs">100</text><text x="490.58" y="310.50" font-size="14.0" textLength="25.94" lengthAdjust="spacingAndGlyphs">150</text><text x="490.52" y="400.70" font-size="14.0" textLength="26.00" lengthAdjust="spacingAndGlyphs">200</text><text x="490.52" y="490.90" font-size="14.0" textLength="26.00" lengthAdjust="spacingAndGlyphs">250</text><text x="963.38" y="39.90" font-size="14.0" textLength="8.13" lengthAdjust="spacingAndGlyphs">0</text><text x="954.65" y="130.10" font-size="14.0" textLength="16.87" lengthAdjust="spacingAndGlyphs">50</text><text x="945.58" y="220.30" font-size="14.0" textLength="25.94" lengthAdjust="spacingAndGlyphs">100</text><text x="945.58" y="310.50" font-size="14.0" textLength="25.94" lengthAdjust="spacingAndGlyphs">150</text><text x="945.52" y="400.70" font-size="14.0" textLength="26.00" lengthAdjust="spacingAndGlyphs">200</text><text x="945.52" y="490.90" font-size="14.0" textLength="26.00" lengthAdjust="spacingAndGlyphs">250</text><text x="53.81" y="679.83" font-size="14.0" textLength="7.67" lengthAdjust="spacingAndGlyphs">5</text><text x="44.50" y="744.83" font-size="14.0" textLength="17.03" lengthAdjust="spacingAndGlyphs">10</text><text x="44.82" y="809.83" font-size="14.0" textLength="16.69" lengthAdjust="spacingAndGlyphs">15</text><text x="44.43" y="874.83" font-size="14.0" textLength="17.10" lengthAdjust="spacingAndGlyphs">20</text><text x="44.75" y="939.83" font-size="14.0" textLength="16.77" lengthAdjust="spacingAndGlyphs">25</text><text x="44.66" y="1004.83" font-size="14.0" textLength="16.86" lengthAdjust="spacingAndGlyphs">30</text><text x="44.97" y="1069.83" font-size="14.0" textLength="16.54" lengthAdjust="spacingAndGlyphs">35</text><text x="44.57" y="1134.83" font-size="14.0" textLength="16.95" lengthAdjust="spacingAndGlyphs">40</text><text x="508.81" y="679.83" font-size="14.0" textLength="7.67" lengthAdjust="spacingAndGlyphs">5</text><text x="499.50" y="744.83" font-size="14.0" textLength="17.03" lengthAdjust="spacingAndGlyphs">10</text><text x="499.82" y="809.83" font-size="14.0" textLength="16.69" lengthAdjust="spacingAndGlyphs">15</text><text x="499.43" y="874.83" font-size="14.0" textLength="17.10" lengthAdjust="spacingAndGlyphs">20</text><text x="499.75" y="939.83" font-size="14.0" textLength="16.77" lengthAdjust="spacingAndGlyphs">25</text><text x="499.66" y="1004.83" font-size="14.0" textLength="16.86" lengthAdjust="spacingAndGlyphs">30</text><text x="499.97" y="1069.83" font-size="14.0" textLength="16.54" lengthAdjust="spacingAndGlyphs">35</text><text x="499.57" y="1134.83" font-size="14.0" textLength="16.95" lengthAdjust="spacingAndGlyphs">40</text><text x="963.81" y="679.83" font-size="14.0" textLength="7.67" lengthAdjust="spacingAndGlyphs">5</text><text x="954.50" y="744.83" font-size="14.0" textLength="17.03" lengthAdjust="spacingAndGlyphs">10</text><text x="954.82" y="809.83" font-size="14.0" textLength="16.69" lengthAdjust="spacingAndGlyphs">15</text><text x="954.43" y="874.83" font-size="14.0" textLength="17.10" lengthAdjust="spacingAndGlyphs">20</text><text x="954.75" y="939.83" font-size="14.0" textLength="16.77" lengthAdjust="spacingAndGlyphs">25</text><text x="954.66" y="1004.83" font-size="14.0" textLength="16.86" lengthAdjust="spacingAndGlyphs">30</text><text x="954.97" y="1069.83" font-size="14.0" textLength="16.54" lengthAdjust="spacingAndGlyphs">35</text><text x="954.57" y="1134.83" font-size="14.0" textLength="16.95" lengthAdjust="spacingAndGlyphs">40</text><text x="268.87" y="599.80" font-size="14.0" textLength="9.31" lengthAdjust="spacingAndGlyphs">T</text><text x="724.27" y="599.80" font-size="14.0" textLength="8.40" lengthAdjust="spacingAndGlyphs">S</text><text x="1159.94" y="599.80" font-size="14.0" textLength="46.68" lengthAdjust="spacingAndGlyphs">PDENS</text><text x="268.87" y="1182.70" font-size="14.0" textLength="9.31" lengthAdjust="spacingAndGlyphs">T</text><text x="724.27" y="1182.70" font-size="14.0" textLength="8.40" lengthAdjust="spacingAndGlyphs">S</text><text x="1159.94" y="1182.70" font-size="14.0" textLength="46.68" lengthAdjust="spacingAndGlyphs">PDENS</text><g transform="translate(25.80 299.25) rotate(-90)"><text x="-29.76" y="0.00" font-size="14.0" textLength="59.01" lengthAdjust="spacingAndGlyphs">Pressure</text></g><g transform="translate(35.00 881.50) rotate(-90)"><text x="-29.76" y="0.00" font-size="14.0" textLength="59.01" lengthAdjust="spacingAndGlyphs">Pressure</text></g><text x="185.65" y="26.75" font-size="16.67" textLength="173.82" lengthAdjust="spacingAndGlyphs">6902872 Profile: 240</text>
</svg></body></html>
